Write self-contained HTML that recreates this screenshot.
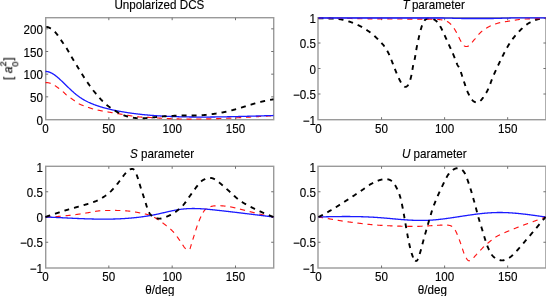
<!DOCTYPE html>
<html><head><meta charset="utf-8"><title>Scattering parameters</title>
<style>
html,body{margin:0;padding:0;background:#fff;}
body{width:546px;height:296px;overflow:hidden;}
svg{display:block;}
text{font-family:"Liberation Sans", Arial, Helvetica, sans-serif;font-size:12px;fill:#000;stroke:#000;stroke-width:0.14px;}
text{filter:url(#gs);}
.it{font-style:italic;}
</style></head><body>
<svg width="546" height="296" viewBox="0 0 546 296">
<defs><filter id="gs" x="-20%" y="-20%" width="140%" height="140%" color-interpolation-filters="sRGB"><feOffset dx="0" dy="0"/></filter></defs>
<rect x="0" y="0" width="546" height="296" fill="#fff"/>

<g id="panel1">
<clipPath id="clip1"><rect x="44.5" y="16.5" width="230.0" height="104.0"/></clipPath>
<rect x="45.7" y="17.7" width="228.00" height="102.00" fill="none" stroke="#9a9a9a" stroke-width="1.4"/>
<path d="M108.83,119.7v-2.5 M108.83,17.7v2.5 M172.17,119.7v-2.5 M172.17,17.7v2.5 M235.50,119.7v-2.5 M235.50,17.7v2.5 M45.7,96.83h2.5 M273.7,96.83h-2.5 M45.7,74.17h2.5 M273.7,74.17h-2.5 M45.7,51.50h2.5 M273.7,51.50h-2.5 M45.7,28.83h2.5 M273.7,28.83h-2.5" stroke="#707070" stroke-width="1" fill="none"/>
<g clip-path="url(#clip1)" fill="none" stroke-linejoin="round">
<path d="M45.50,82.60 L45.70,82.59 L45.90,82.59 L46.10,82.59 L46.30,82.59 L46.50,82.60 L46.70,82.61 L46.90,82.62 L47.10,82.63 L47.30,82.65 L47.50,82.66 L47.70,82.69 L47.90,82.71 L48.10,82.74 L48.30,82.77 L48.50,82.81 L48.70,82.85 L48.90,82.89 L49.10,82.94 L49.30,82.99 L49.50,83.04 L49.70,83.10 L49.90,83.16 L50.10,83.23 L50.30,83.30 L50.50,83.37 L50.65,83.43 M54.90,85.57 L55.10,85.70 L55.30,85.84 L55.50,85.97 L55.70,86.11 L55.90,86.25 L56.10,86.39 L56.30,86.53 L56.50,86.67 L56.70,86.81 L56.90,86.95 L57.10,87.10 L57.30,87.24 L57.50,87.39 L57.70,87.53 L57.90,87.68 L58.10,87.82 L58.30,87.97 L58.50,88.12 L58.70,88.27 L58.90,88.42 L59.10,88.58 L59.15,88.61 M62.90,91.58 L63.10,91.76 L63.30,91.93 L63.50,92.12 L63.70,92.31 L63.90,92.50 L64.10,92.70 L64.30,92.90 L64.50,93.10 L64.70,93.30 L64.90,93.50 L65.10,93.70 L65.30,93.90 L65.50,94.10 L65.70,94.29 L65.90,94.48 L66.10,94.66 L66.30,94.84 L66.50,95.01 L66.70,95.17 M70.55,97.94 L70.75,98.08 L70.95,98.22 L71.15,98.36 L71.35,98.50 L71.55,98.64 L71.75,98.78 L71.95,98.92 L72.15,99.06 L72.35,99.20 L72.55,99.34 L72.75,99.49 L72.95,99.63 L73.15,99.77 L73.35,99.91 L73.55,100.05 L73.75,100.19 L73.95,100.33 L74.15,100.47 L74.35,100.61 L74.55,100.75 L74.75,100.89 L74.85,100.96 M78.75,103.71 L78.95,103.81 L79.15,103.91 L79.35,104.01 L79.55,104.11 L79.75,104.20 L79.95,104.30 L80.15,104.39 L80.35,104.47 L80.55,104.56 L80.75,104.64 L80.95,104.73 L81.15,104.81 L81.35,104.89 L81.55,104.96 L81.75,105.04 L81.95,105.12 L82.15,105.19 L82.35,105.26 L82.55,105.34 L82.75,105.41 L82.95,105.48 L83.15,105.55 L83.35,105.62 L83.55,105.69 L83.60,105.71 M88.05,107.28 L88.25,107.36 L88.45,107.43 L88.65,107.51 L88.85,107.58 L89.05,107.65 L89.25,107.72 L89.45,107.80 L89.65,107.87 L89.85,107.94 L90.05,108.01 L90.25,108.08 L90.45,108.15 L90.65,108.22 L90.85,108.29 L91.05,108.36 L91.25,108.42 L91.45,108.49 L91.65,108.55 L91.85,108.62 L92.05,108.68 L92.25,108.74 L92.45,108.80 L92.65,108.86 L92.85,108.92 L93.05,108.98 M97.65,110.05 L97.85,110.09 L98.05,110.13 L98.25,110.18 L98.45,110.22 L98.65,110.26 L98.85,110.30 L99.05,110.34 L99.25,110.38 L99.45,110.42 L99.65,110.47 L99.85,110.51 L100.05,110.55 L100.25,110.59 L100.45,110.63 L100.65,110.66 L100.85,110.70 L101.05,110.74 L101.25,110.78 L101.45,110.82 L101.65,110.86 L101.85,110.90 L102.05,110.94 L102.25,110.97 L102.45,111.01 L102.65,111.05 L102.80,111.08 M107.50,111.90 L107.70,111.93 L107.90,111.97 L108.10,112.00 L108.30,112.04 L108.50,112.07 L108.70,112.10 L108.90,112.14 L109.10,112.17 L109.30,112.20 L109.50,112.24 L109.70,112.27 L109.90,112.30 L110.10,112.34 L110.30,112.37 L110.50,112.40 L110.70,112.44 L110.90,112.47 L111.10,112.51 L111.30,112.54 L111.50,112.57 L111.70,112.61 L111.90,112.64 L112.10,112.67 L112.30,112.71 L112.50,112.74 L112.65,112.77 M117.35,113.56 L117.55,113.59 L117.75,113.62 L117.95,113.66 L118.15,113.69 L118.35,113.72 L118.55,113.76 L118.75,113.79 L118.95,113.82 L119.15,113.86 L119.35,113.89 L119.55,113.92 L119.75,113.96 L119.95,113.99 L120.15,114.03 L120.35,114.06 L120.55,114.09 L120.75,114.13 L120.95,114.16 L121.15,114.19 L121.35,114.23 L121.55,114.26 L121.75,114.29 L121.95,114.33 L122.15,114.36 L122.35,114.40 L122.50,114.42 M127.20,115.21 L127.40,115.24 L127.60,115.28 L127.80,115.31 L128.00,115.35 L128.20,115.38 L128.40,115.41 L128.60,115.45 L128.80,115.48 L129.00,115.51 L129.20,115.55 L129.40,115.58 L129.60,115.61 L129.80,115.65 L130.00,115.68 L130.20,115.72 L130.40,115.75 L130.60,115.78 L130.80,115.82 L131.00,115.85 L131.20,115.88 L131.40,115.92 L131.60,115.95 L131.80,115.98 L132.00,116.02 L132.20,116.05 L132.40,116.08 M137.10,116.77 L137.30,116.79 L137.50,116.81 L137.70,116.83 L137.90,116.85 L138.10,116.87 L138.30,116.88 L138.50,116.90 L138.70,116.92 L138.90,116.93 L139.10,116.95 L139.30,116.96 L139.50,116.97 L139.70,116.99 L139.90,117.00 L140.10,117.01 L140.30,117.02 L140.50,117.03 L140.70,117.05 L140.90,117.06 L141.10,117.07 L141.30,117.08 L141.50,117.09 L141.70,117.09 L141.90,117.10 L142.10,117.11 L142.30,117.12 M147.05,117.31 L147.25,117.32 L147.45,117.33 L147.65,117.34 L147.85,117.36 L148.05,117.37 L148.25,117.38 L148.45,117.39 L148.65,117.40 L148.85,117.42 L149.05,117.43 L149.25,117.44 L149.45,117.45 L149.65,117.47 L149.85,117.48 L150.05,117.49 L150.25,117.51 L150.45,117.52 L150.65,117.53 L150.85,117.54 L151.05,117.56 L151.25,117.57 L151.45,117.58 L151.65,117.60 L151.85,117.61 L152.05,117.62 L152.25,117.63 M156.95,117.93 L157.15,117.95 L157.35,117.96 L157.55,117.97 L157.75,117.98 L157.95,118.00 L158.15,118.01 L158.35,118.02 L158.55,118.03 L158.75,118.05 L158.95,118.06 L159.15,118.07 L159.35,118.08 L159.55,118.10 L159.75,118.11 L159.95,118.12 L160.15,118.13 L160.35,118.15 L160.55,118.16 L160.75,118.17 L160.95,118.18 L161.15,118.19 L161.35,118.21 L161.55,118.22 L161.75,118.23 L161.95,118.24 L162.10,118.25 M166.75,118.51 L166.95,118.52 L167.15,118.53 L167.35,118.54 L167.55,118.55 L167.75,118.56 L167.95,118.57 L168.15,118.58 L168.35,118.59 L168.55,118.60 L168.75,118.61 L168.95,118.62 L169.15,118.62 L169.35,118.63 L169.55,118.64 L169.75,118.65 L169.95,118.66 L170.15,118.67 L170.35,118.68 L170.55,118.68 L170.75,118.69 L170.95,118.70 L171.15,118.71 L171.35,118.72 L171.55,118.72 L171.75,118.73 L171.90,118.74 M176.60,118.89 L176.80,118.89 L177.00,118.90 L177.20,118.90 L177.40,118.91 L177.60,118.91 L177.80,118.92 L178.00,118.92 L178.20,118.93 L178.40,118.93 L178.60,118.94 L178.80,118.94 L179.00,118.94 L179.20,118.95 L179.40,118.95 L179.60,118.96 L179.80,118.96 L180.00,118.96 L180.20,118.97 L180.40,118.97 L180.60,118.97 L180.80,118.98 L181.00,118.98 L181.20,118.98 L181.40,118.99 L181.60,118.99 L181.75,118.99 M186.45,119.04 L186.65,119.04 L186.85,119.04 L187.05,119.04 L187.25,119.05 L187.45,119.05 L187.65,119.05 L187.85,119.05 L188.05,119.05 L188.25,119.05 L188.45,119.05 L188.65,119.05 L188.85,119.05 L189.05,119.05 L189.25,119.05 L189.45,119.05 L189.65,119.05 L189.85,119.05 L190.05,119.05 L190.25,119.05 L190.45,119.05 L190.65,119.05 L190.85,119.05 L191.05,119.05 L191.25,119.05 L191.45,119.05 L191.60,119.05 M196.30,119.02 L196.50,119.02 L196.70,119.01 L196.90,119.01 L197.10,119.01 L197.30,119.01 L197.50,119.01 L197.70,119.00 L197.90,119.00 L198.10,119.00 L198.30,119.00 L198.50,118.99 L198.70,118.99 L198.90,118.99 L199.10,118.99 L199.30,118.98 L199.50,118.98 L199.70,118.98 L199.90,118.98 L200.10,118.97 L200.30,118.97 L200.50,118.97 L200.70,118.97 L200.90,118.96 L201.10,118.96 L201.30,118.96 L201.45,118.96 M206.20,118.88 L206.40,118.88 L206.60,118.88 L206.80,118.87 L207.00,118.87 L207.20,118.86 L207.40,118.86 L207.60,118.86 L207.80,118.85 L208.00,118.85 L208.20,118.85 L208.40,118.84 L208.60,118.84 L208.80,118.83 L209.00,118.83 L209.20,118.82 L209.40,118.82 L209.60,118.82 L209.80,118.81 L210.00,118.81 L210.20,118.80 L210.40,118.80 L210.60,118.79 L210.80,118.79 L211.00,118.78 L211.20,118.78 L211.40,118.77 M216.15,118.64 L216.35,118.63 L216.55,118.63 L216.75,118.62 L216.95,118.62 L217.15,118.61 L217.35,118.60 L217.55,118.59 L217.75,118.59 L217.95,118.58 L218.15,118.57 L218.35,118.57 L218.55,118.56 L218.75,118.55 L218.95,118.55 L219.15,118.54 L219.35,118.53 L219.55,118.53 L219.75,118.52 L219.95,118.51 L220.15,118.50 L220.35,118.50 L220.55,118.49 L220.75,118.48 L220.95,118.48 L221.15,118.47 L221.35,118.46 M226.10,118.29 L226.30,118.28 L226.50,118.27 L226.70,118.26 L226.90,118.26 L227.10,118.25 L227.30,118.24 L227.50,118.23 L227.70,118.22 L227.90,118.22 L228.10,118.21 L228.30,118.20 L228.50,118.19 L228.70,118.18 L228.90,118.17 L229.10,118.17 L229.30,118.16 L229.50,118.15 L229.70,118.14 L229.90,118.13 L230.10,118.12 L230.30,118.12 L230.50,118.11 L230.70,118.10 L230.90,118.09 L231.10,118.08 L231.30,118.07 L231.35,118.07 M236.05,117.85 L236.25,117.84 L236.45,117.83 L236.65,117.82 L236.85,117.81 L237.05,117.80 L237.25,117.79 L237.45,117.78 L237.65,117.77 L237.85,117.76 L238.05,117.75 L238.25,117.74 L238.45,117.72 L238.65,117.71 L238.85,117.70 L239.05,117.69 L239.25,117.68 L239.45,117.67 L239.65,117.66 L239.85,117.65 L240.05,117.64 L240.25,117.63 L240.45,117.61 L240.65,117.60 L240.85,117.59 L241.05,117.58 L241.25,117.57 M246.00,117.31 L246.20,117.30 L246.40,117.28 L246.60,117.27 L246.80,117.26 L247.00,117.25 L247.20,117.24 L247.40,117.23 L247.60,117.22 L247.80,117.20 L248.00,117.19 L248.20,117.18 L248.40,117.17 L248.60,117.16 L248.80,117.15 L249.00,117.14 L249.20,117.13 L249.40,117.11 L249.60,117.10 L249.80,117.09 L250.00,117.08 L250.20,117.07 L250.40,117.06 L250.60,117.04 L250.80,117.03 L251.00,117.02 L251.20,117.01 M255.95,116.73 L256.15,116.72 L256.35,116.71 L256.55,116.70 L256.75,116.69 L256.95,116.68 L257.15,116.66 L257.35,116.65 L257.55,116.64 L257.75,116.63 L257.95,116.62 L258.15,116.61 L258.35,116.59 L258.55,116.58 L258.75,116.57 L258.95,116.56 L259.15,116.55 L259.35,116.54 L259.55,116.52 L259.75,116.51 L259.95,116.50 L260.15,116.49 L260.35,116.48 L260.55,116.47 L260.75,116.45 L260.95,116.44 L261.15,116.43 M265.90,116.15 L266.10,116.14 L266.30,116.13 L266.50,116.12 L266.70,116.10 L266.90,116.09 L267.10,116.08 L267.30,116.07 L267.50,116.06 L267.70,116.05 L267.90,116.03 L268.10,116.02 L268.30,116.01 L268.50,116.00 L268.70,115.99 L268.90,115.97 L269.10,115.96 L269.30,115.95 L269.50,115.94 L269.70,115.93 L269.90,115.91 L270.10,115.90 L270.30,115.89 L270.50,115.88 L270.70,115.87 L270.90,115.86 L271.10,115.84" stroke="#ff1414" stroke-width="1.15"/>
<path d="M45.50,71.50 L46.00,71.49 L46.50,71.52 L47.00,71.56 L47.50,71.64 L48.00,71.73 L48.50,71.86 L49.00,72.00 L49.50,72.17 L50.00,72.35 L50.50,72.56 L51.00,72.79 L51.50,73.04 L52.00,73.30 L52.50,73.59 L53.00,73.89 L53.50,74.20 L54.00,74.54 L54.50,74.88 L55.00,75.24 L55.50,75.62 L56.00,76.00 L56.50,76.40 L57.00,76.81 L57.50,77.23 L58.00,77.66 L58.50,78.09 L59.00,78.54 L59.50,78.99 L60.00,79.45 L60.50,79.91 L61.00,80.38 L61.50,80.85 L62.00,81.33 L62.50,81.81 L63.00,82.30 L63.50,82.78 L64.00,83.27 L64.50,83.76 L65.00,84.25 L65.50,84.74 L66.00,85.23 L66.50,85.71 L67.00,86.20 L67.50,86.68 L68.00,87.16 L68.50,87.64 L69.00,88.12 L69.50,88.60 L70.00,89.07 L70.50,89.54 L71.00,90.00 L71.50,90.46 L72.00,90.92 L72.50,91.37 L73.00,91.82 L73.50,92.26 L74.00,92.69 L74.50,93.13 L75.00,93.55 L75.50,93.97 L76.00,94.38 L76.50,94.79 L77.00,95.18 L77.50,95.58 L78.00,95.96 L78.50,96.33 L79.00,96.70 L79.50,97.06 L80.00,97.41 L80.50,97.75 L81.00,98.08 L81.50,98.41 L82.00,98.73 L82.50,99.04 L83.00,99.34 L83.50,99.64 L84.00,99.93 L84.50,100.21 L85.00,100.49 L85.50,100.76 L86.00,101.02 L86.50,101.28 L87.00,101.53 L87.50,101.77 L88.00,102.02 L88.50,102.25 L89.00,102.48 L89.50,102.71 L90.00,102.93 L90.50,103.15 L91.00,103.36 L91.50,103.57 L92.00,103.77 L92.50,103.97 L93.00,104.17 L93.50,104.36 L94.00,104.55 L94.50,104.74 L95.00,104.93 L95.50,105.11 L96.00,105.29 L96.50,105.46 L97.00,105.64 L97.50,105.81 L98.00,105.98 L98.50,106.14 L99.00,106.31 L99.50,106.47 L100.00,106.63 L100.50,106.78 L101.00,106.94 L101.50,107.09 L102.00,107.24 L102.50,107.39 L103.00,107.53 L103.50,107.67 L104.00,107.81 L104.50,107.95 L105.00,108.09 L105.50,108.22 L106.00,108.35 L106.50,108.48 L107.00,108.61 L107.50,108.74 L108.00,108.86 L108.50,108.98 L109.00,109.10 L109.50,109.22 L110.00,109.34 L110.50,109.45 L111.00,109.57 L111.50,109.68 L112.00,109.79 L112.50,109.90 L113.00,110.01 L113.50,110.11 L114.00,110.22 L114.50,110.32 L115.00,110.42 L115.50,110.52 L116.00,110.62 L116.50,110.72 L117.00,110.82 L117.50,110.91 L118.00,111.01 L118.50,111.10 L119.00,111.19 L119.50,111.28 L120.00,111.37 L120.50,111.46 L121.00,111.55 L121.50,111.64 L122.00,111.73 L122.50,111.81 L123.00,111.90 L123.50,111.98 L124.00,112.06 L124.50,112.15 L125.00,112.23 L125.50,112.31 L126.00,112.39 L126.50,112.46 L127.00,112.54 L127.50,112.62 L128.00,112.69 L128.50,112.77 L129.00,112.84 L129.50,112.91 L130.00,112.99 L130.50,113.06 L131.00,113.13 L131.50,113.20 L132.00,113.27 L132.50,113.34 L133.00,113.40 L133.50,113.47 L134.00,113.53 L134.50,113.60 L135.00,113.66 L135.50,113.73 L136.00,113.79 L136.50,113.85 L137.00,113.91 L137.50,113.97 L138.00,114.03 L138.50,114.09 L139.00,114.15 L139.50,114.20 L140.00,114.26 L140.50,114.32 L141.00,114.37 L141.50,114.42 L142.00,114.48 L142.50,114.53 L143.00,114.58 L143.50,114.63 L144.00,114.68 L144.50,114.73 L145.00,114.78 L145.50,114.83 L146.00,114.88 L146.50,114.92 L147.00,114.97 L147.50,115.02 L148.00,115.06 L148.50,115.11 L149.00,115.15 L149.50,115.19 L150.00,115.23 L150.50,115.28 L151.00,115.32 L151.50,115.36 L152.00,115.40 L152.50,115.44 L153.00,115.48 L153.50,115.51 L154.00,115.55 L154.50,115.59 L155.00,115.62 L155.50,115.66 L156.00,115.69 L156.50,115.73 L157.00,115.76 L157.50,115.80 L158.00,115.83 L158.50,115.86 L159.00,115.89 L159.50,115.92 L160.00,115.95 L160.50,115.98 L161.00,116.01 L161.50,116.04 L162.00,116.07 L162.50,116.10 L163.00,116.13 L163.50,116.15 L164.00,116.18 L164.50,116.21 L165.00,116.23 L165.50,116.26 L166.00,116.28 L166.50,116.30 L167.00,116.33 L167.50,116.35 L168.00,116.37 L168.50,116.40 L169.00,116.42 L169.50,116.44 L170.00,116.46 L170.50,116.48 L171.00,116.50 L171.50,116.52 L172.00,116.54 L172.50,116.56 L173.00,116.57 L173.50,116.59 L174.00,116.61 L174.50,116.63 L175.00,116.64 L175.50,116.66 L176.00,116.68 L176.50,116.69 L177.00,116.71 L177.50,116.72 L178.00,116.74 L178.50,116.75 L179.00,116.76 L179.50,116.78 L180.00,116.79 L180.50,116.80 L181.00,116.82 L181.50,116.83 L182.00,116.84 L182.50,116.85 L183.00,116.86 L183.50,116.87 L184.00,116.88 L184.50,116.89 L185.00,116.90 L185.50,116.91 L186.00,116.92 L186.50,116.93 L187.00,116.94 L187.50,116.95 L188.00,116.96 L188.50,116.96 L189.00,116.97 L189.50,116.98 L190.00,116.98 L190.50,116.99 L191.00,117.00 L191.50,117.00 L192.00,117.01 L192.50,117.01 L193.00,117.02 L193.50,117.02 L194.00,117.03 L194.50,117.03 L195.00,117.03 L195.50,117.04 L196.00,117.04 L196.50,117.04 L197.00,117.05 L197.50,117.05 L198.00,117.05 L198.50,117.05 L199.00,117.05 L199.50,117.06 L200.00,117.06 L200.50,117.06 L201.00,117.06 L201.50,117.06 L202.00,117.06 L202.50,117.06 L203.00,117.06 L203.50,117.06 L204.00,117.06 L204.50,117.05 L205.00,117.05 L205.50,117.05 L206.00,117.05 L206.50,117.05 L207.00,117.04 L207.50,117.04 L208.00,117.04 L208.50,117.04 L209.00,117.03 L209.50,117.03 L210.00,117.03 L210.50,117.02 L211.00,117.02 L211.50,117.01 L212.00,117.01 L212.50,117.00 L213.00,117.00 L213.50,116.99 L214.00,116.99 L214.50,116.98 L215.00,116.98 L215.50,116.97 L216.00,116.96 L216.50,116.96 L217.00,116.95 L217.50,116.94 L218.00,116.94 L218.50,116.93 L219.00,116.92 L219.50,116.91 L220.00,116.91 L220.50,116.90 L221.00,116.89 L221.50,116.88 L222.00,116.87 L222.50,116.87 L223.00,116.86 L223.50,116.85 L224.00,116.84 L224.50,116.83 L225.00,116.82 L225.50,116.81 L226.00,116.80 L226.50,116.79 L227.00,116.78 L227.50,116.77 L228.00,116.76 L228.50,116.75 L229.00,116.74 L229.50,116.73 L230.00,116.72 L230.50,116.71 L231.00,116.70 L231.50,116.68 L232.00,116.67 L232.50,116.66 L233.00,116.65 L233.50,116.64 L234.00,116.63 L234.50,116.61 L235.00,116.60 L235.50,116.59 L236.00,116.58 L236.50,116.57 L237.00,116.55 L237.50,116.54 L238.00,116.53 L238.50,116.52 L239.00,116.50 L239.50,116.49 L240.00,116.48 L240.50,116.46 L241.00,116.45 L241.50,116.44 L242.00,116.42 L242.50,116.41 L243.00,116.40 L243.50,116.38 L244.00,116.37 L244.50,116.35 L245.00,116.34 L245.50,116.33 L246.00,116.31 L246.50,116.30 L247.00,116.28 L247.50,116.27 L248.00,116.26 L248.50,116.24 L249.00,116.23 L249.50,116.21 L250.00,116.20 L250.50,116.18 L251.00,116.17 L251.50,116.15 L252.00,116.14 L252.50,116.13 L253.00,116.11 L253.50,116.10 L254.00,116.08 L254.50,116.07 L255.00,116.05 L255.50,116.04 L256.00,116.02 L256.50,116.01 L257.00,115.99 L257.50,115.98 L258.00,115.96 L258.50,115.95 L259.00,115.93 L259.50,115.92 L260.00,115.90 L260.50,115.89 L261.00,115.87 L261.50,115.86 L262.00,115.84 L262.50,115.83 L263.00,115.81 L263.50,115.80 L264.00,115.78 L264.50,115.77 L265.00,115.75 L265.50,115.74 L266.00,115.72 L266.50,115.71 L267.00,115.69 L267.50,115.68 L268.00,115.66 L268.50,115.65 L269.00,115.63 L269.50,115.62 L270.00,115.60 L270.50,115.59 L271.00,115.57 L271.50,115.56 L272.00,115.54 L272.50,115.53 L273.00,115.51 L273.50,115.50" stroke="#1a1aff" stroke-width="1.3"/>
<path d="M46.30,26.80 L46.50,26.83 L46.70,26.87 L46.90,26.92 L47.10,26.96 L47.30,27.01 L47.50,27.07 L47.70,27.13 L47.90,27.19 L48.10,27.26 L48.30,27.33 L48.50,27.40 L48.70,27.48 L48.90,27.57 L49.10,27.66 L49.30,27.75 L49.50,27.85 L49.70,27.95 L49.90,28.05 L50.10,28.16 L50.30,28.28 L50.50,28.39 L50.70,28.51 L50.85,28.60 M54.80,31.78 L55.00,31.98 L55.20,32.18 L55.40,32.39 L55.60,32.60 L55.80,32.82 L56.00,33.04 L56.20,33.28 L56.40,33.52 L56.60,33.77 L56.80,34.03 L57.00,34.30 L57.20,34.58 L57.40,34.86 L57.60,35.13 L57.80,35.41 L57.90,35.55 M60.80,39.74 L61.00,40.03 L61.20,40.33 L61.40,40.63 L61.60,40.92 L61.80,41.22 L62.00,41.52 L62.20,41.81 L62.40,42.11 L62.60,42.41 L62.80,42.70 L63.00,42.99 L63.20,43.28 L63.40,43.56 L63.55,43.77 M66.45,47.99 L66.65,48.32 L66.85,48.66 L67.05,49.00 L67.25,49.34 L67.45,49.69 L67.65,50.04 L67.85,50.39 L68.05,50.74 L68.25,51.09 L68.45,51.44 L68.65,51.80 L68.85,52.16 L68.90,52.25 M71.40,56.68 L71.60,57.01 L71.80,57.35 L72.00,57.68 L72.20,58.02 L72.40,58.35 L72.60,58.68 L72.80,59.01 L73.00,59.35 L73.20,59.68 L73.40,60.01 L73.60,60.34 L73.80,60.67 L73.90,60.83 M76.55,65.20 L76.75,65.53 L76.95,65.86 L77.15,66.18 L77.35,66.51 L77.55,66.84 L77.75,67.17 L77.95,67.49 L78.15,67.82 L78.35,68.15 L78.55,68.47 L78.75,68.80 L78.95,69.13 L79.10,69.37 M81.80,73.76 L82.00,74.08 L82.20,74.41 L82.40,74.73 L82.60,75.04 L82.80,75.36 L83.00,75.68 L83.20,75.99 L83.40,76.31 L83.60,76.62 L83.80,76.93 L84.00,77.24 L84.20,77.55 L84.40,77.85 M87.25,82.11 L87.45,82.40 L87.65,82.70 L87.85,82.99 L88.05,83.27 L88.25,83.56 L88.45,83.85 L88.65,84.14 L88.85,84.42 L89.05,84.71 L89.25,84.99 L89.45,85.28 L89.65,85.56 L89.85,85.85 L90.05,86.13 M93.10,90.23 L93.30,90.48 L93.50,90.74 L93.70,90.99 L93.90,91.24 L94.10,91.49 L94.30,91.74 L94.50,91.98 L94.70,92.23 L94.90,92.47 L95.10,92.72 L95.30,92.96 L95.50,93.20 L95.70,93.44 L95.90,93.68 L96.10,93.92 L96.20,94.03 M99.50,97.83 L99.70,98.05 L99.90,98.28 L100.10,98.50 L100.30,98.72 L100.50,98.94 L100.70,99.16 L100.90,99.37 L101.10,99.59 L101.30,99.80 L101.50,100.02 L101.70,100.23 L101.90,100.44 L102.10,100.65 L102.30,100.86 L102.50,101.06 L102.70,101.27 L102.85,101.42 M106.60,104.86 L106.80,105.02 L107.00,105.18 L107.20,105.34 L107.40,105.49 L107.60,105.64 L107.80,105.80 L108.00,105.95 L108.20,106.10 L108.40,106.25 L108.60,106.40 L108.80,106.55 L109.00,106.69 L109.20,106.84 L109.40,106.99 L109.60,107.13 L109.80,107.27 L110.00,107.41 L110.20,107.56 L110.40,107.70 L110.55,107.80 M114.75,110.56 L114.95,110.68 L115.15,110.81 L115.35,110.93 L115.55,111.05 L115.75,111.18 L115.95,111.30 L116.15,111.42 L116.35,111.54 L116.55,111.66 L116.75,111.78 L116.95,111.90 L117.15,112.02 L117.35,112.14 L117.55,112.26 L117.75,112.37 L117.95,112.49 L118.15,112.60 L118.35,112.72 L118.55,112.83 L118.75,112.94 L118.95,113.05 L119.00,113.08 M123.50,115.17 L123.70,115.25 L123.90,115.32 L124.10,115.40 L124.30,115.47 L124.50,115.55 L124.70,115.62 L124.90,115.69 L125.10,115.76 L125.30,115.83 L125.50,115.90 L125.70,115.96 L125.90,116.03 L126.10,116.09 L126.30,116.16 L126.50,116.22 L126.70,116.28 L126.90,116.34 L127.10,116.40 L127.30,116.46 L127.50,116.52 L127.70,116.57 L127.90,116.63 L128.05,116.67 M132.90,117.71 L133.10,117.74 L133.30,117.77 L133.50,117.80 L133.70,117.83 L133.90,117.85 L134.10,117.88 L134.30,117.90 L134.50,117.92 L134.70,117.94 L134.90,117.97 L135.10,117.99 L135.30,118.01 L135.50,118.03 L135.70,118.05 L135.90,118.07 L136.10,118.09 L136.30,118.10 L136.50,118.12 L136.70,118.14 L136.90,118.16 L137.10,118.17 L137.30,118.19 L137.50,118.20 L137.65,118.21 M142.60,118.27 L142.80,118.26 L143.00,118.25 L143.20,118.25 L143.40,118.24 L143.60,118.23 L143.80,118.23 L144.00,118.22 L144.20,118.21 L144.40,118.20 L144.60,118.19 L144.80,118.18 L145.00,118.17 L145.20,118.16 L145.40,118.15 L145.60,118.14 L145.80,118.13 L146.00,118.12 L146.20,118.10 L146.40,118.09 L146.60,118.08 L146.80,118.06 L147.00,118.05 L147.20,118.03 L147.40,118.01 M152.30,117.48 L152.50,117.46 L152.70,117.43 L152.90,117.41 L153.10,117.39 L153.30,117.37 L153.50,117.34 L153.70,117.32 L153.90,117.30 L154.10,117.27 L154.30,117.25 L154.50,117.23 L154.70,117.21 L154.90,117.19 L155.10,117.16 L155.30,117.14 L155.50,117.12 L155.70,117.10 L155.90,117.08 L156.10,117.06 L156.30,117.04 L156.50,117.02 L156.70,117.00 L156.90,116.97 L157.00,116.96 M161.90,116.48 L162.10,116.47 L162.30,116.45 L162.50,116.43 L162.70,116.42 L162.90,116.40 L163.10,116.38 L163.30,116.37 L163.50,116.35 L163.70,116.34 L163.90,116.32 L164.10,116.31 L164.30,116.30 L164.50,116.28 L164.70,116.27 L164.90,116.25 L165.10,116.24 L165.30,116.23 L165.50,116.22 L165.70,116.20 L165.90,116.19 L166.10,116.18 L166.30,116.17 L166.50,116.16 L166.60,116.15 M171.55,115.91 L171.75,115.90 L171.95,115.89 L172.15,115.89 L172.35,115.88 L172.55,115.87 L172.75,115.86 L172.95,115.85 L173.15,115.85 L173.35,115.84 L173.55,115.83 L173.75,115.82 L173.95,115.81 L174.15,115.81 L174.35,115.80 L174.55,115.79 L174.75,115.78 L174.95,115.77 L175.15,115.77 L175.35,115.76 L175.55,115.75 L175.75,115.75 L175.95,115.74 L176.15,115.73 L176.35,115.72 L176.50,115.72 M181.60,115.56 L181.80,115.56 L182.00,115.55 L182.20,115.55 L182.40,115.54 L182.60,115.54 L182.80,115.53 L183.00,115.53 L183.20,115.52 L183.40,115.52 L183.60,115.52 L183.80,115.51 L184.00,115.51 L184.20,115.50 L184.40,115.50 L184.60,115.49 L184.80,115.49 L185.00,115.49 L185.20,115.48 L185.40,115.48 L185.60,115.48 L185.80,115.48 L186.00,115.48 L186.20,115.48 L186.40,115.48 L186.55,115.48 M191.60,115.51 L191.80,115.51 L192.00,115.51 L192.20,115.52 L192.40,115.52 L192.60,115.52 L192.80,115.52 L193.00,115.52 L193.20,115.52 L193.40,115.52 L193.60,115.52 L193.80,115.52 L194.00,115.52 L194.20,115.52 L194.40,115.52 L194.60,115.52 L194.80,115.52 L195.00,115.51 L195.20,115.51 L195.40,115.51 L195.60,115.51 L195.80,115.50 L196.00,115.50 L196.20,115.50 L196.40,115.49 L196.55,115.49 M201.65,115.24 L201.85,115.23 L202.05,115.21 L202.25,115.20 L202.45,115.18 L202.65,115.17 L202.85,115.15 L203.05,115.13 L203.25,115.12 L203.45,115.10 L203.65,115.08 L203.85,115.07 L204.05,115.05 L204.25,115.03 L204.45,115.01 L204.65,115.00 L204.85,114.98 L205.05,114.96 L205.25,114.94 L205.45,114.92 L205.65,114.90 L205.85,114.88 L206.05,114.86 L206.25,114.84 L206.45,114.82 L206.60,114.80 M211.65,114.20 L211.85,114.17 L212.05,114.14 L212.25,114.12 L212.45,114.09 L212.65,114.06 L212.85,114.03 L213.05,114.01 L213.25,113.98 L213.45,113.95 L213.65,113.92 L213.85,113.89 L214.05,113.86 L214.25,113.84 L214.45,113.81 L214.65,113.78 L214.85,113.75 L215.05,113.72 L215.25,113.69 L215.45,113.66 L215.65,113.63 L215.85,113.60 L216.05,113.57 L216.25,113.53 L216.45,113.50 L216.55,113.49 M221.55,112.63 L221.75,112.59 L221.95,112.55 L222.15,112.51 L222.35,112.48 L222.55,112.44 L222.75,112.40 L222.95,112.36 L223.15,112.32 L223.35,112.28 L223.55,112.24 L223.75,112.20 L223.95,112.16 L224.15,112.12 L224.35,112.08 L224.55,112.04 L224.75,112.00 L224.95,111.95 L225.15,111.91 L225.35,111.87 L225.55,111.83 L225.75,111.78 L225.95,111.74 L226.15,111.69 L226.35,111.65 L226.40,111.64 M231.35,110.42 L231.55,110.37 L231.75,110.32 L231.95,110.27 L232.15,110.21 L232.35,110.16 L232.55,110.11 L232.75,110.05 L232.95,110.00 L233.15,109.94 L233.35,109.89 L233.55,109.84 L233.75,109.78 L233.95,109.73 L234.15,109.67 L234.35,109.62 L234.55,109.56 L234.75,109.51 L234.95,109.45 L235.15,109.39 L235.35,109.34 L235.55,109.28 L235.75,109.22 L235.95,109.17 L236.10,109.12 M241.00,107.66 L241.20,107.60 L241.40,107.54 L241.60,107.48 L241.80,107.41 L242.00,107.35 L242.20,107.29 L242.40,107.23 L242.60,107.17 L242.80,107.11 L243.00,107.05 L243.20,106.99 L243.40,106.92 L243.60,106.86 L243.80,106.80 L244.00,106.74 L244.20,106.68 L244.40,106.62 L244.60,106.56 L244.80,106.49 L245.00,106.43 L245.20,106.37 L245.40,106.31 L245.60,106.25 L245.75,106.20 M250.60,104.73 L250.80,104.67 L251.00,104.61 L251.20,104.54 L251.40,104.48 L251.60,104.42 L251.80,104.36 L252.00,104.30 L252.20,104.24 L252.40,104.18 L252.60,104.12 L252.80,104.06 L253.00,104.00 L253.20,103.94 L253.40,103.88 L253.60,103.82 L253.80,103.76 L254.00,103.70 L254.20,103.64 L254.40,103.58 L254.60,103.52 L254.80,103.46 L255.00,103.40 L255.20,103.34 L255.35,103.29 M260.25,101.97 L260.45,101.93 L260.65,101.88 L260.85,101.83 L261.05,101.79 L261.25,101.74 L261.45,101.69 L261.65,101.65 L261.85,101.60 L262.05,101.56 L262.25,101.51 L262.45,101.47 L262.65,101.43 L262.85,101.38 L263.05,101.34 L263.25,101.29 L263.45,101.25 L263.65,101.21 L263.85,101.16 L264.05,101.12 L264.25,101.08 L264.45,101.03 L264.65,100.99 L264.85,100.95 L265.05,100.90 L265.10,100.89 M270.10,99.89 L270.30,99.86 L270.50,99.82 L270.70,99.78 L270.90,99.75 L271.10,99.71 L271.30,99.68 L271.50,99.64 L271.70,99.61 L271.90,99.57 L272.10,99.54 L272.30,99.50 L272.50,99.47 L272.70,99.43 L272.90,99.40 L273.10,99.37 L273.30,99.33 L273.50,99.30 L273.50,99.30" stroke="#000" stroke-width="1.9"/>
</g>
<text transform="translate(45.50,132.90) scale(0.97,1)" text-anchor="middle">0</text>
<text transform="translate(108.83,132.90) scale(0.97,1)" text-anchor="middle">50</text>
<text transform="translate(172.17,132.90) scale(0.97,1)" text-anchor="middle">100</text>
<text transform="translate(235.50,132.90) scale(0.97,1)" text-anchor="middle">150</text>
<text transform="translate(43.00,124.50) scale(0.97,1)" text-anchor="end">0</text>
<text transform="translate(43.00,101.83) scale(0.97,1)" text-anchor="end">50</text>
<text transform="translate(43.00,79.17) scale(0.97,1)" text-anchor="end">100</text>
<text transform="translate(43.00,56.50) scale(0.97,1)" text-anchor="end">150</text>
<text transform="translate(43.00,33.83) scale(0.97,1)" text-anchor="end">200</text>
</g>
<g id="panel2">
<clipPath id="clip2"><rect x="317.5" y="16.5" width="229.0" height="104.0"/></clipPath>
<rect x="318.0" y="17.7" width="227.90" height="102.00" fill="none" stroke="#9a9a9a" stroke-width="1.4"/>
<path d="M381.56,119.7v-2.5 M381.56,17.7v2.5 M444.61,119.7v-2.5 M444.61,17.7v2.5 M507.67,119.7v-2.5 M507.67,17.7v2.5 M318.0,94.00h2.5 M545.9,94.00h-2.5 M318.0,68.50h2.5 M545.9,68.50h-2.5 M318.0,43.00h2.5 M545.9,43.00h-2.5" stroke="#707070" stroke-width="1" fill="none"/>
<g clip-path="url(#clip2)" fill="none" stroke-linejoin="round">
<path d="M318.50,18.40 L318.70,18.40 L318.90,18.40 L319.10,18.40 L319.30,18.39 L319.50,18.39 L319.70,18.39 L319.90,18.39 L320.10,18.39 L320.30,18.39 L320.50,18.39 L320.70,18.39 L320.90,18.40 L321.10,18.40 L321.30,18.40 L321.50,18.40 L321.70,18.40 L321.90,18.40 L322.10,18.40 L322.30,18.41 L322.50,18.41 L322.70,18.41 L322.90,18.41 L323.10,18.42 L323.30,18.42 L323.45,18.42 M328.55,18.51 L328.75,18.52 L328.95,18.52 L329.15,18.52 L329.35,18.53 L329.55,18.54 L329.75,18.54 L329.95,18.55 L330.15,18.55 L330.35,18.56 L330.55,18.57 L330.75,18.57 L330.95,18.58 L331.15,18.59 L331.35,18.60 L331.55,18.60 L331.75,18.61 L331.95,18.62 L332.15,18.63 L332.35,18.64 L332.55,18.65 L332.75,18.66 L332.95,18.67 L333.15,18.68 L333.35,18.69 L333.50,18.70 M338.55,19.05 L338.75,19.07 L338.95,19.09 L339.15,19.12 L339.35,19.14 L339.55,19.17 L339.75,19.20 L339.95,19.23 L340.15,19.26 L340.35,19.29 L340.55,19.32 L340.75,19.36 L340.95,19.39 L341.15,19.43 L341.35,19.46 L341.55,19.50 L341.75,19.54 L341.95,19.58 L342.15,19.63 L342.35,19.67 L342.55,19.71 L342.75,19.76 L342.95,19.80 L343.15,19.85 L343.35,19.90 L343.45,19.92 M348.35,21.28 L348.55,21.35 L348.75,21.41 L348.95,21.47 L349.15,21.53 L349.35,21.60 L349.55,21.66 L349.75,21.73 L349.95,21.80 L350.15,21.86 L350.35,21.93 L350.55,22.00 L350.75,22.07 L350.95,22.14 L351.15,22.22 L351.35,22.29 L351.55,22.36 L351.75,22.44 L351.95,22.51 L352.15,22.59 L352.35,22.66 L352.55,22.74 L352.75,22.82 L352.95,22.90 L353.00,22.92 M357.65,24.92 L357.85,25.01 L358.05,25.10 L358.25,25.19 L358.45,25.29 L358.65,25.38 L358.85,25.48 L359.05,25.57 L359.25,25.67 L359.45,25.77 L359.65,25.86 L359.85,25.96 L360.05,26.06 L360.25,26.17 L360.45,26.27 L360.65,26.37 L360.85,26.48 L361.05,26.59 L361.25,26.69 L361.45,26.80 L361.65,26.91 L361.85,27.02 L362.05,27.13 L362.10,27.16 M366.45,29.81 L366.65,29.95 L366.85,30.08 L367.05,30.21 L367.25,30.34 L367.45,30.47 L367.65,30.61 L367.85,30.74 L368.05,30.88 L368.25,31.01 L368.45,31.15 L368.65,31.28 L368.85,31.42 L369.05,31.56 L369.25,31.70 L369.45,31.83 L369.65,31.97 L369.85,32.12 L370.05,32.26 L370.25,32.41 L370.45,32.56 L370.50,32.60 M374.40,35.89 L374.60,36.08 L374.80,36.26 L375.00,36.45 L375.20,36.64 L375.40,36.83 L375.60,37.02 L375.80,37.21 L376.00,37.40 L376.20,37.60 L376.40,37.79 L376.60,37.99 L376.80,38.18 L377.00,38.38 L377.20,38.58 L377.40,38.78 L377.60,38.98 L377.80,39.18 L377.95,39.33 M381.45,42.91 L381.65,43.13 L381.85,43.35 L382.05,43.57 L382.25,43.79 L382.45,44.02 L382.65,44.25 L382.85,44.48 L383.05,44.71 L383.25,44.95 L383.45,45.20 L383.65,45.45 L383.85,45.70 L384.05,45.95 L384.25,46.22 L384.45,46.48 L384.50,46.55 M387.20,50.73 L387.40,51.09 L387.60,51.45 L387.80,51.83 L388.00,52.21 L388.20,52.60 L388.40,53.00 L388.60,53.41 L388.80,53.83 L389.00,54.27 L389.20,54.71 L389.35,55.05 M391.30,59.75 L391.50,60.25 L391.70,60.76 L391.90,61.26 L392.10,61.77 L392.30,62.29 L392.50,62.80 L392.70,63.32 L392.90,63.83 L393.05,64.22 M394.85,68.86 L395.05,69.37 L395.25,69.87 L395.45,70.38 L395.65,70.87 L395.85,71.37 L396.05,71.86 L396.25,72.35 L396.45,72.83 L396.65,73.31 L396.70,73.43 M398.80,78.21 L399.00,78.64 L399.20,79.07 L399.40,79.49 L399.60,79.90 L399.80,80.30 L400.00,80.69 L400.20,81.06 L400.40,81.42 L400.60,81.77 L400.80,82.10 L401.00,82.42 L401.05,82.50 M404.35,86.46 L404.55,86.59 L404.75,86.70 L404.95,86.78 L405.15,86.85 L405.35,86.89 L405.55,86.90 L405.75,86.88 L405.95,86.82 L406.15,86.73 L406.35,86.62 L406.55,86.49 L406.75,86.35 L406.95,86.19 L407.15,86.04 L407.35,85.88 L407.55,85.69 L407.75,85.48 L407.95,85.24 L408.15,84.98 L408.35,84.69 L408.40,84.62 M410.30,79.69 L410.50,78.96 L410.70,78.20 L410.90,77.42 L411.10,76.62 L411.30,75.80 L411.50,74.91 M412.40,69.91 L412.60,68.69 L412.80,67.47 L413.00,66.28 L413.20,65.12 M414.55,59.86 L414.75,58.85 L414.95,57.78 L415.15,56.65 L415.35,55.49 L415.40,55.19 M416.25,50.05 L416.45,48.87 L416.65,47.74 L416.85,46.66 L417.05,45.64 L417.15,45.16 M418.25,40.02 L418.45,39.12 L418.65,38.23 L418.85,37.36 L419.05,36.49 L419.25,35.64 L419.35,35.22 M420.65,30.10 L420.85,29.36 L421.05,28.65 L421.25,27.96 L421.45,27.28 L421.65,26.63 L421.85,26.01 L422.05,25.41 M424.35,20.74 L424.55,20.48 L424.75,20.24 L424.95,20.03 L425.15,19.83 L425.35,19.65 L425.55,19.49 L425.75,19.35 L425.95,19.23 L426.15,19.13 L426.35,19.05 L426.55,18.99 L426.75,18.93 L426.95,18.88 L427.15,18.82 L427.35,18.77 L427.55,18.72 L427.75,18.68 L427.95,18.63 L428.15,18.59 L428.35,18.55 L428.55,18.52 M433.40,19.11 L433.60,19.21 L433.80,19.32 L434.00,19.43 L434.20,19.55 L434.40,19.67 L434.60,19.80 L434.80,19.93 L435.00,20.07 L435.20,20.21 L435.40,20.35 L435.60,20.50 L435.80,20.65 L436.00,20.81 L436.20,20.97 L436.40,21.14 L436.60,21.32 L436.80,21.50 L437.00,21.69 L437.20,21.89 L437.30,22.00 M440.15,26.14 L440.35,26.51 L440.55,26.88 L440.75,27.26 L440.95,27.64 L441.15,28.02 L441.35,28.41 L441.55,28.80 L441.75,29.19 L441.95,29.59 L442.15,29.99 L442.35,30.40 L442.40,30.50 M444.60,35.23 L444.80,35.67 L445.00,36.11 L445.20,36.55 L445.40,36.99 L445.60,37.43 L445.80,37.88 L446.00,38.32 L446.20,38.76 L446.40,39.20 L446.60,39.64 M448.75,44.39 L448.95,44.84 L449.15,45.28 L449.35,45.72 L449.55,46.16 L449.75,46.61 L449.95,47.05 L450.15,47.49 L450.35,47.93 L450.55,48.38 L450.75,48.82 M452.85,53.47 L453.05,53.91 L453.25,54.36 L453.45,54.83 L453.65,55.30 L453.85,55.79 L454.05,56.28 L454.25,56.78 L454.45,57.29 L454.65,57.80 L454.75,58.06 M456.60,62.84 L456.80,63.33 L457.00,63.82 L457.20,64.30 L457.40,64.74 L457.60,65.13 L457.80,65.48 L458.00,65.79 L458.20,66.08 L458.40,66.35 L458.60,66.63 L458.80,66.91 L458.95,67.14 M460.85,71.98 L461.05,72.60 L461.25,73.21 L461.45,73.83 L461.65,74.44 L461.85,75.06 L462.05,75.68 L462.25,76.29 L462.35,76.60 M463.95,81.49 L464.15,82.10 L464.35,82.70 L464.55,83.31 L464.75,83.92 L464.95,84.53 L465.15,85.13 L465.35,85.74 L465.45,86.04 M467.20,90.99 L467.40,91.47 L467.60,91.92 L467.80,92.37 L468.00,92.80 L468.20,93.22 L468.40,93.63 L468.60,94.03 L468.80,94.42 L469.00,94.82 L469.20,95.21 L469.30,95.40 M471.95,99.67 L472.15,99.91 L472.35,100.14 L472.55,100.35 L472.75,100.55 L472.95,100.74 L473.15,100.92 L473.35,101.09 L473.55,101.24 L473.75,101.39 L473.95,101.52 L474.15,101.64 L474.35,101.75 L474.55,101.85 L474.75,101.94 L474.95,102.02 L475.15,102.09 L475.35,102.15 L475.55,102.20 L475.75,102.24 L475.80,102.25 M480.35,100.84 L480.55,100.66 L480.75,100.46 L480.95,100.25 L481.15,100.03 L481.35,99.80 L481.55,99.57 L481.75,99.33 L481.95,99.09 L482.15,98.84 L482.35,98.58 L482.55,98.32 L482.75,98.06 L482.95,97.79 L483.15,97.51 L483.35,97.24 L483.40,97.16 M486.10,92.98 L486.30,92.65 L486.50,92.30 L486.70,91.95 L486.90,91.59 L487.10,91.22 L487.30,90.84 L487.50,90.45 L487.70,90.04 L487.90,89.62 L488.10,89.18 L488.30,88.73 L488.35,88.61 M490.25,83.85 L490.45,83.32 L490.65,82.79 L490.85,82.26 L491.05,81.72 L491.25,81.19 L491.45,80.66 L491.65,80.13 L491.85,79.60 L491.95,79.34 M493.90,74.58 L494.10,74.13 L494.30,73.69 L494.50,73.24 L494.70,72.80 L494.90,72.36 L495.10,71.91 L495.30,71.47 L495.50,71.03 L495.70,70.59 L495.90,70.15 M498.05,65.51 L498.25,65.08 L498.45,64.66 L498.65,64.24 L498.85,63.82 L499.05,63.40 L499.25,62.99 L499.45,62.57 L499.65,62.16 L499.85,61.75 L500.05,61.33 L500.15,61.13 M502.40,56.56 L502.60,56.16 L502.80,55.76 L503.00,55.36 L503.20,54.97 L503.40,54.57 L503.60,54.18 L503.80,53.78 L504.00,53.39 L504.20,53.00 L504.40,52.60 L504.60,52.22 M507.05,47.66 L507.25,47.31 L507.45,46.96 L507.65,46.61 L507.85,46.27 L508.05,45.93 L508.25,45.59 L508.45,45.26 L508.65,44.93 L508.85,44.60 L509.05,44.27 L509.25,43.95 L509.45,43.64 L509.55,43.48 M512.50,39.22 L512.70,38.95 L512.90,38.69 L513.10,38.43 L513.30,38.17 L513.50,37.92 L513.70,37.66 L513.90,37.41 L514.10,37.16 L514.30,36.92 L514.50,36.67 L514.70,36.43 L514.90,36.18 L515.10,35.94 L515.30,35.71 L515.50,35.47 L515.55,35.41 M518.95,31.57 L519.15,31.36 L519.35,31.15 L519.55,30.94 L519.75,30.73 L519.95,30.52 L520.15,30.31 L520.35,30.11 L520.55,29.91 L520.75,29.70 L520.95,29.50 L521.15,29.31 L521.35,29.11 L521.55,28.92 L521.75,28.73 L521.95,28.53 L522.15,28.35 L522.35,28.16 L522.40,28.11 M526.35,24.80 L526.55,24.66 L526.75,24.51 L526.95,24.37 L527.15,24.23 L527.35,24.09 L527.55,23.95 L527.75,23.82 L527.95,23.69 L528.15,23.56 L528.35,23.43 L528.55,23.31 L528.75,23.18 L528.95,23.06 L529.15,22.94 L529.35,22.83 L529.55,22.71 L529.75,22.60 L529.95,22.48 L530.15,22.37 L530.35,22.26 L530.50,22.18 M535.15,20.14 L535.35,20.07 L535.55,20.00 L535.75,19.93 L535.95,19.86 L536.15,19.80 L536.35,19.73 L536.55,19.67 L536.75,19.61 L536.95,19.55 L537.15,19.49 L537.35,19.43 L537.55,19.37 L537.75,19.31 L537.95,19.26 L538.15,19.21 L538.35,19.15 L538.55,19.10 L538.75,19.05 L538.95,19.01 L539.15,18.96 L539.35,18.91 L539.55,18.87 L539.75,18.83 L539.90,18.80 M544.95,18.37 L545.15,18.38 L545.35,18.39 L545.45,18.40" stroke="#000" stroke-width="1.9"/>
<path d="M318.50,18.20 L318.70,18.20 L318.90,18.20 L319.10,18.20 L319.30,18.20 L319.50,18.20 L319.70,18.20 L319.90,18.20 L320.10,18.20 L320.30,18.20 L320.50,18.20 L320.70,18.19 L320.90,18.19 L321.10,18.19 L321.30,18.19 L321.50,18.19 L321.70,18.19 L321.90,18.19 L322.10,18.19 L322.30,18.19 L322.45,18.19 M327.20,18.20 L327.40,18.20 L327.60,18.20 L327.80,18.20 L328.00,18.20 L328.20,18.20 L328.40,18.20 L328.60,18.20 L328.80,18.20 L329.00,18.20 L329.20,18.20 L329.40,18.21 L329.60,18.21 L329.80,18.21 L330.00,18.21 L330.20,18.21 L330.40,18.21 L330.60,18.21 L330.80,18.21 L331.00,18.21 L331.20,18.21 L331.40,18.22 L331.60,18.22 L331.80,18.22 L332.00,18.22 L332.20,18.22 L332.40,18.22 L332.45,18.22 M337.20,18.26 L337.40,18.27 L337.60,18.27 L337.80,18.27 L338.00,18.27 L338.20,18.28 L338.40,18.28 L338.60,18.28 L338.80,18.28 L339.00,18.29 L339.20,18.29 L339.40,18.29 L339.60,18.29 L339.80,18.30 L340.00,18.30 L340.20,18.30 L340.40,18.31 L340.60,18.31 L340.80,18.31 L341.00,18.31 L341.20,18.32 L341.40,18.32 L341.60,18.32 L341.80,18.33 L342.00,18.33 L342.20,18.34 L342.40,18.34 L342.45,18.34 M347.20,18.44 L347.40,18.44 L347.60,18.45 L347.80,18.45 L348.00,18.46 L348.20,18.46 L348.40,18.47 L348.60,18.47 L348.80,18.48 L349.00,18.48 L349.20,18.48 L349.40,18.49 L349.60,18.49 L349.80,18.50 L350.00,18.50 L350.20,18.51 L350.40,18.51 L350.60,18.52 L350.80,18.52 L351.00,18.53 L351.20,18.53 L351.40,18.54 L351.60,18.54 L351.80,18.55 L352.00,18.55 L352.20,18.55 L352.40,18.56 L352.45,18.56 M357.20,18.66 L357.40,18.66 L357.60,18.66 L357.80,18.67 L358.00,18.67 L358.20,18.67 L358.40,18.68 L358.60,18.68 L358.80,18.68 L359.00,18.69 L359.20,18.69 L359.40,18.69 L359.60,18.69 L359.80,18.70 L360.00,18.70 L360.20,18.70 L360.40,18.70 L360.60,18.71 L360.80,18.71 L361.00,18.71 L361.20,18.71 L361.40,18.72 L361.60,18.72 L361.80,18.72 L362.00,18.72 L362.20,18.73 L362.40,18.73 L362.45,18.73 M367.20,18.79 L367.40,18.79 L367.60,18.79 L367.80,18.79 L368.00,18.80 L368.20,18.80 L368.40,18.80 L368.60,18.80 L368.80,18.80 L369.00,18.81 L369.20,18.81 L369.40,18.81 L369.60,18.81 L369.80,18.81 L370.00,18.82 L370.20,18.82 L370.40,18.82 L370.60,18.82 L370.80,18.83 L371.00,18.83 L371.20,18.83 L371.40,18.83 L371.60,18.83 L371.80,18.84 L372.00,18.84 L372.20,18.84 L372.40,18.84 L372.45,18.84 M377.20,18.88 L377.40,18.88 L377.60,18.88 L377.80,18.89 L378.00,18.89 L378.20,18.89 L378.40,18.89 L378.60,18.89 L378.80,18.89 L379.00,18.89 L379.20,18.90 L379.40,18.90 L379.60,18.90 L379.80,18.90 L380.00,18.90 L380.20,18.90 L380.40,18.90 L380.60,18.90 L380.80,18.90 L381.00,18.91 L381.20,18.91 L381.40,18.91 L381.60,18.91 L381.80,18.91 L382.00,18.91 L382.20,18.91 L382.40,18.91 L382.45,18.91 M387.20,18.94 L387.40,18.94 L387.60,18.94 L387.80,18.94 L388.00,18.94 L388.20,18.94 L388.40,18.94 L388.60,18.94 L388.80,18.94 L389.00,18.95 L389.20,18.95 L389.40,18.95 L389.60,18.95 L389.80,18.95 L390.00,18.95 L390.20,18.95 L390.40,18.95 L390.60,18.95 L390.80,18.95 L391.00,18.95 L391.20,18.96 L391.40,18.96 L391.60,18.96 L391.80,18.96 L392.00,18.96 L392.20,18.96 L392.40,18.96 L392.45,18.96 M397.20,18.98 L397.40,18.99 L397.60,18.99 L397.80,18.99 L398.00,18.99 L398.20,18.99 L398.40,18.99 L398.60,18.99 L398.80,18.99 L399.00,18.99 L399.20,19.00 L399.40,19.00 L399.60,19.00 L399.80,19.00 L400.00,19.00 L400.20,19.00 L400.40,19.00 L400.60,19.00 L400.80,19.00 L401.00,19.01 L401.20,19.01 L401.40,19.01 L401.60,19.01 L401.80,19.01 L402.00,19.01 L402.20,19.01 L402.40,19.01 L402.45,19.01 M407.20,19.05 L407.40,19.05 L407.60,19.05 L407.80,19.05 L408.00,19.05 L408.20,19.05 L408.40,19.05 L408.60,19.06 L408.80,19.06 L409.00,19.06 L409.20,19.06 L409.40,19.06 L409.60,19.06 L409.80,19.06 L410.00,19.07 L410.20,19.07 L410.40,19.07 L410.60,19.07 L410.80,19.07 L411.00,19.07 L411.20,19.07 L411.40,19.08 L411.60,19.08 L411.80,19.08 L412.00,19.08 L412.20,19.08 L412.40,19.08 L412.45,19.08 M417.20,19.11 L417.40,19.11 L417.60,19.11 L417.80,19.11 L418.00,19.11 L418.20,19.11 L418.40,19.11 L418.60,19.11 L418.80,19.11 L419.00,19.11 L419.20,19.11 L419.40,19.11 L419.60,19.11 L419.80,19.11 L420.00,19.11 L420.20,19.11 L420.40,19.11 L420.60,19.11 L420.80,19.11 L421.00,19.11 L421.20,19.11 L421.40,19.11 L421.60,19.11 L421.80,19.11 L422.00,19.11 L422.20,19.11 L422.40,19.11 L422.45,19.11 M427.20,19.10 L427.40,19.10 L427.60,19.10 L427.80,19.10 L428.00,19.10 L428.20,19.10 L428.40,19.10 L428.60,19.10 L428.80,19.10 L429.00,19.10 L429.20,19.10 L429.40,19.10 L429.60,19.10 L429.80,19.10 L430.00,19.10 L430.20,19.10 L430.40,19.10 L430.60,19.10 L430.80,19.10 L431.00,19.10 L431.20,19.10 L431.40,19.10 L431.60,19.10 L431.80,19.10 L432.00,19.10 L432.20,19.10 L432.40,19.10 L432.45,19.10 M437.20,19.39 L437.40,19.41 L437.60,19.43 L437.80,19.45 L438.00,19.47 L438.20,19.49 L438.40,19.51 L438.60,19.53 L438.80,19.55 L439.00,19.57 L439.20,19.59 L439.40,19.61 L439.60,19.62 L439.80,19.64 L440.00,19.66 L440.20,19.68 L440.40,19.70 L440.60,19.72 L440.80,19.74 L441.00,19.77 L441.20,19.79 L441.40,19.82 L441.60,19.86 L441.80,19.89 L442.00,19.93 L442.20,19.97 L442.40,20.01 M446.95,21.40 L447.15,21.49 L447.35,21.58 L447.55,21.68 L447.75,21.79 L447.95,21.91 L448.15,22.03 L448.35,22.17 L448.55,22.30 L448.75,22.45 L448.95,22.60 L449.15,22.76 L449.35,22.92 L449.55,23.09 L449.75,23.27 L449.95,23.45 L450.15,23.64 L450.35,23.83 L450.55,24.03 L450.75,24.23 L450.95,24.44 L451.10,24.60 M454.00,28.32 L454.20,28.62 L454.40,28.93 L454.60,29.25 L454.80,29.57 L455.00,29.90 L455.20,30.23 L455.40,30.57 L455.60,30.92 L455.80,31.27 L456.00,31.62 L456.20,31.98 L456.40,32.35 L456.60,32.73 L456.65,32.83 M458.75,37.12 L458.95,37.53 L459.15,37.94 L459.35,38.35 L459.55,38.75 L459.75,39.15 L459.95,39.54 L460.15,39.92 L460.35,40.29 L460.55,40.66 L460.75,41.02 L460.95,41.37 L461.15,41.71 M463.95,45.58 L464.15,45.75 L464.35,45.91 L464.55,46.04 L464.75,46.16 L464.95,46.26 L465.15,46.34 L465.35,46.41 L465.55,46.46 L465.75,46.49 L465.95,46.52 L466.15,46.53 L466.35,46.52 L466.55,46.51 L466.75,46.48 L466.95,46.45 L467.15,46.42 L467.35,46.38 L467.55,46.33 L467.75,46.28 L467.95,46.21 L468.15,46.13 L468.35,46.04 L468.55,45.94 L468.75,45.82 L468.85,45.75 M472.10,42.29 L472.30,42.06 L472.50,41.83 L472.70,41.60 L472.90,41.37 L473.10,41.13 L473.30,40.90 L473.50,40.67 L473.70,40.43 L473.90,40.20 L474.10,39.96 L474.30,39.73 L474.50,39.49 L474.70,39.25 L474.90,39.01 L475.10,38.78 L475.30,38.54 L475.45,38.35 M478.55,34.65 L478.75,34.42 L478.95,34.19 L479.15,33.96 L479.35,33.73 L479.55,33.51 L479.75,33.29 L479.95,33.08 L480.15,32.88 L480.35,32.68 L480.55,32.48 L480.75,32.29 L480.95,32.10 L481.15,31.92 L481.35,31.74 L481.55,31.56 L481.75,31.39 L481.95,31.23 L482.15,31.06 L482.25,30.98 M486.15,28.29 L486.35,28.17 L486.55,28.04 L486.75,27.92 L486.95,27.80 L487.15,27.68 L487.35,27.56 L487.55,27.45 L487.75,27.33 L487.95,27.22 L488.15,27.10 L488.35,26.99 L488.55,26.88 L488.75,26.77 L488.95,26.66 L489.15,26.55 L489.35,26.45 L489.55,26.34 L489.75,26.24 L489.95,26.14 L490.15,26.04 L490.35,25.95 L490.55,25.85 L490.75,25.76 M495.20,24.04 L495.40,23.97 L495.60,23.90 L495.80,23.84 L496.00,23.77 L496.20,23.70 L496.40,23.64 L496.60,23.57 L496.80,23.51 L497.00,23.45 L497.20,23.38 L497.40,23.32 L497.60,23.26 L497.80,23.20 L498.00,23.15 L498.20,23.09 L498.40,23.03 L498.60,22.98 L498.80,22.93 L499.00,22.87 L499.20,22.82 L499.40,22.78 L499.60,22.73 L499.80,22.68 L500.00,22.64 L500.20,22.59 M504.90,21.78 L505.10,21.74 L505.30,21.71 L505.50,21.68 L505.70,21.65 L505.90,21.61 L506.10,21.58 L506.30,21.55 L506.50,21.52 L506.70,21.48 L506.90,21.45 L507.10,21.42 L507.30,21.39 L507.50,21.35 L507.70,21.32 L507.90,21.29 L508.10,21.26 L508.30,21.23 L508.50,21.20 L508.70,21.16 L508.90,21.13 L509.10,21.10 L509.30,21.07 L509.50,21.04 L509.70,21.01 L509.90,20.98 L510.10,20.95 M514.80,20.19 L515.00,20.16 L515.20,20.12 L515.40,20.09 L515.60,20.06 L515.80,20.02 L516.00,19.99 L516.20,19.96 L516.40,19.92 L516.60,19.89 L516.80,19.86 L517.00,19.83 L517.20,19.79 L517.40,19.76 L517.60,19.73 L517.80,19.70 L518.00,19.67 L518.20,19.64 L518.40,19.61 L518.60,19.58 L518.80,19.55 L519.00,19.53 L519.20,19.50 L519.40,19.47 L519.60,19.45 L519.80,19.42 L519.95,19.40 M524.70,19.05 L524.90,19.04 L525.10,19.04 L525.30,19.03 L525.50,19.02 L525.70,19.01 L525.90,19.00 L526.10,18.99 L526.30,18.99 L526.50,18.98 L526.70,18.97 L526.90,18.97 L527.10,18.96 L527.30,18.95 L527.50,18.95 L527.70,18.94 L527.90,18.93 L528.10,18.93 L528.30,18.92 L528.50,18.92 L528.70,18.91 L528.90,18.90 L529.10,18.90 L529.30,18.89 L529.50,18.89 L529.70,18.88 L529.90,18.88 L529.95,18.88 M534.70,18.73 L534.90,18.73 L535.10,18.72 L535.30,18.71 L535.50,18.71 L535.70,18.70 L535.90,18.69 L536.10,18.69 L536.30,18.68 L536.50,18.68 L536.70,18.67 L536.90,18.66 L537.10,18.66 L537.30,18.65 L537.50,18.64 L537.70,18.64 L537.90,18.63 L538.10,18.62 L538.30,18.62 L538.50,18.61 L538.70,18.60 L538.90,18.60 L539.10,18.59 L539.30,18.59 L539.50,18.58 L539.70,18.57 L539.90,18.57 L539.95,18.57 M544.70,18.42 L544.90,18.42 L545.10,18.41 L545.30,18.41 L545.45,18.40" stroke="#ff1414" stroke-width="1.15"/>
<path d="M318.50,18.00 L319.00,18.00 L319.50,18.00 L320.00,18.00 L320.50,18.00 L321.00,18.00 L321.50,18.00 L322.00,18.00 L322.50,18.00 L323.00,18.00 L323.50,18.00 L324.00,18.00 L324.50,18.00 L325.00,18.00 L325.50,18.00 L326.00,18.00 L326.50,18.00 L327.00,18.00 L327.50,18.00 L328.00,18.00 L328.50,18.00 L329.00,18.00 L329.50,18.00 L330.00,18.00 L330.50,18.00 L331.00,18.00 L331.50,18.00 L332.00,18.00 L332.50,18.00 L333.00,18.00 L333.50,18.00 L334.00,18.00 L334.50,18.00 L335.00,18.00 L335.50,18.00 L336.00,18.00 L336.50,18.00 L337.00,18.00 L337.50,18.00 L338.00,18.00 L338.50,18.00 L339.00,18.00 L339.50,18.00 L340.00,18.00 L340.50,18.00 L341.00,18.00 L341.50,18.00 L342.00,18.00 L342.50,18.00 L343.00,18.00 L343.50,18.00 L344.00,18.00 L344.50,18.00 L345.00,18.00 L345.50,18.00 L346.00,18.00 L346.50,18.00 L347.00,18.00 L347.50,18.00 L348.00,18.00 L348.50,18.00 L349.00,18.00 L349.50,18.00 L350.00,18.00 L350.50,18.00 L351.00,18.00 L351.50,18.00 L352.00,18.00 L352.50,18.00 L353.00,18.00 L353.50,18.00 L354.00,18.00 L354.50,18.00 L355.00,18.00 L355.50,18.00 L356.00,18.00 L356.50,18.00 L357.00,18.00 L357.50,18.00 L358.00,18.00 L358.50,18.00 L359.00,18.00 L359.50,18.00 L360.00,18.00 L360.50,18.00 L361.00,18.00 L361.50,18.00 L362.00,18.00 L362.50,18.00 L363.00,18.00 L363.50,18.00 L364.00,18.00 L364.50,18.00 L365.00,18.00 L365.50,18.00 L366.00,18.00 L366.50,18.00 L367.00,18.00 L367.50,18.00 L368.00,18.00 L368.50,18.00 L369.00,18.00 L369.50,18.00 L370.00,18.00 L370.50,18.00 L371.00,18.00 L371.50,18.00 L372.00,18.00 L372.50,18.00 L373.00,18.00 L373.50,18.00 L374.00,18.00 L374.50,18.00 L375.00,18.00 L375.50,18.00 L376.00,18.00 L376.50,18.00 L377.00,18.00 L377.50,18.00 L378.00,18.00 L378.50,18.00 L379.00,18.00 L379.50,18.00 L380.00,18.00 L380.50,18.00 L381.00,18.00 L381.50,18.00 L382.00,18.00 L382.50,18.00 L383.00,18.00 L383.50,18.00 L384.00,18.00 L384.50,18.00 L385.00,18.00 L385.50,18.00 L386.00,18.00 L386.50,18.00 L387.00,18.00 L387.50,18.00 L388.00,18.00 L388.50,18.00 L389.00,18.00 L389.50,18.00 L390.00,18.00 L390.50,18.00 L391.00,18.00 L391.50,18.00 L392.00,18.00 L392.50,18.00 L393.00,18.00 L393.50,18.00 L394.00,18.00 L394.50,18.00 L395.00,18.00 L395.50,18.00 L396.00,18.00 L396.50,18.00 L397.00,18.00 L397.50,18.00 L398.00,18.00 L398.50,18.00 L399.00,18.00 L399.50,18.00 L400.00,18.00 L400.50,18.00 L401.00,18.00 L401.50,18.00 L402.00,18.00 L402.50,18.00 L403.00,18.00 L403.50,18.00 L404.00,18.00 L404.50,18.00 L405.00,18.00 L405.50,18.00 L406.00,18.00 L406.50,18.00 L407.00,18.00 L407.50,18.00 L408.00,18.00 L408.50,18.00 L409.00,18.00 L409.50,18.00 L410.00,18.00 L410.50,18.00 L411.00,18.00 L411.50,18.00 L412.00,18.00 L412.50,18.00 L413.00,18.00 L413.50,18.00 L414.00,18.00 L414.50,18.00 L415.00,18.00 L415.50,18.00 L416.00,18.00 L416.50,18.00 L417.00,18.00 L417.50,18.00 L418.00,18.00 L418.50,18.00 L419.00,18.00 L419.50,18.00 L420.00,18.00 L420.50,18.00 L421.00,18.00 L421.50,18.00 L422.00,18.00 L422.50,18.00 L423.00,18.00 L423.50,18.00 L424.00,18.00 L424.50,18.00 L425.00,18.00 L425.50,18.00 L426.00,18.00 L426.50,18.00 L427.00,18.00 L427.50,18.00 L428.00,18.00 L428.50,18.00 L429.00,18.00 L429.50,18.00 L430.00,18.00 L430.50,18.00 L431.00,18.00 L431.50,18.00 L432.00,18.00 L432.50,18.00 L433.00,18.00 L433.50,18.00 L434.00,18.00 L434.50,18.00 L435.00,18.00 L435.50,18.00 L436.00,18.00 L436.50,18.00 L437.00,18.00 L437.50,18.00 L438.00,18.00 L438.50,18.00 L439.00,18.00 L439.50,18.00 L440.00,18.00 L440.50,18.00 L441.00,18.00 L441.50,18.00 L442.00,18.01 L442.50,18.01 L443.00,18.02 L443.50,18.02 L444.00,18.03 L444.50,18.04 L445.00,18.05 L445.50,18.06 L446.00,18.07 L446.50,18.08 L447.00,18.09 L447.50,18.10 L448.00,18.11 L448.50,18.12 L449.00,18.13 L449.50,18.14 L450.00,18.15 L450.50,18.16 L451.00,18.18 L451.50,18.20 L452.00,18.22 L452.50,18.24 L453.00,18.26 L453.50,18.29 L454.00,18.31 L454.50,18.34 L455.00,18.36 L455.50,18.38 L456.00,18.40 L456.50,18.42 L457.00,18.43 L457.50,18.44 L458.00,18.45 L458.50,18.45 L459.00,18.46 L459.50,18.46 L460.00,18.47 L460.50,18.47 L461.00,18.47 L461.50,18.48 L462.00,18.48 L462.50,18.48 L463.00,18.49 L463.50,18.49 L464.00,18.49 L464.50,18.49 L465.00,18.49 L465.50,18.50 L466.00,18.50 L466.50,18.50 L467.00,18.50 L467.50,18.50 L468.00,18.50 L468.50,18.50 L469.00,18.50 L469.50,18.50 L470.00,18.50 L470.50,18.50 L471.00,18.50 L471.50,18.50 L472.00,18.50 L472.50,18.50 L473.00,18.50 L473.50,18.50 L474.00,18.50 L474.50,18.50 L475.00,18.50 L475.50,18.50 L476.00,18.50 L476.50,18.50 L477.00,18.50 L477.50,18.50 L478.00,18.50 L478.50,18.50 L479.00,18.50 L479.50,18.50 L480.00,18.50 L480.50,18.50 L481.00,18.50 L481.50,18.50 L482.00,18.50 L482.50,18.50 L483.00,18.50 L483.50,18.51 L484.00,18.51 L484.50,18.51 L485.00,18.51 L485.50,18.51 L486.00,18.51 L486.50,18.51 L487.00,18.51 L487.50,18.52 L488.00,18.52 L488.50,18.52 L489.00,18.51 L489.50,18.51 L490.00,18.51 L490.50,18.51 L491.00,18.51 L491.50,18.50 L492.00,18.50 L492.50,18.49 L493.00,18.49 L493.50,18.48 L494.00,18.47 L494.50,18.46 L495.00,18.45 L495.50,18.44 L496.00,18.43 L496.50,18.41 L497.00,18.40 L497.50,18.38 L498.00,18.37 L498.50,18.35 L499.00,18.33 L499.50,18.32 L500.00,18.30 L500.50,18.28 L501.00,18.26 L501.50,18.25 L502.00,18.23 L502.50,18.22 L503.00,18.20 L503.50,18.19 L504.00,18.17 L504.50,18.16 L505.00,18.14 L505.50,18.13 L506.00,18.11 L506.50,18.10 L507.00,18.08 L507.50,18.07 L508.00,18.05 L508.50,18.04 L509.00,18.03 L509.50,18.01 L510.00,18.00 L510.50,17.99 L511.00,17.97 L511.50,17.96 L512.00,17.95 L512.50,17.94 L513.00,17.93 L513.50,17.92 L514.00,17.91 L514.50,17.90 L515.00,17.89 L515.50,17.89 L516.00,17.88 L516.50,17.87 L517.00,17.87 L517.50,17.86 L518.00,17.85 L518.50,17.85 L519.00,17.84 L519.50,17.84 L520.00,17.84 L520.50,17.83 L521.00,17.83 L521.50,17.83 L522.00,17.82 L522.50,17.82 L523.00,17.82 L523.50,17.82 L524.00,17.82 L524.50,17.82 L525.00,17.82 L525.50,17.82 L526.00,17.82 L526.50,17.82 L527.00,17.82 L527.50,17.82 L528.00,17.82 L528.50,17.82 L529.00,17.83 L529.50,17.83 L530.00,17.83 L530.50,17.83 L531.00,17.84 L531.50,17.84 L532.00,17.84 L532.50,17.85 L533.00,17.85 L533.50,17.85 L534.00,17.86 L534.50,17.86 L535.00,17.87 L535.50,17.87 L536.00,17.88 L536.50,17.88 L537.00,17.89 L537.50,17.89 L538.00,17.90 L538.50,17.91 L539.00,17.91 L539.50,17.92 L540.00,17.93 L540.50,17.93 L541.00,17.94 L541.50,17.94 L542.00,17.95 L542.50,17.96 L543.00,17.96 L543.50,17.97 L544.00,17.98 L544.50,17.99 L545.00,17.99 L545.50,18.00" stroke="#1a1aff" stroke-width="1.3"/>
</g>
<text transform="translate(318.50,132.90) scale(0.97,1)" text-anchor="middle">0</text>
<text transform="translate(381.56,132.90) scale(0.97,1)" text-anchor="middle">50</text>
<text transform="translate(444.61,132.90) scale(0.97,1)" text-anchor="middle">100</text>
<text transform="translate(507.67,132.90) scale(0.97,1)" text-anchor="middle">150</text>
<text transform="translate(316.00,124.50) scale(0.97,1)" text-anchor="end">−1</text>
<text transform="translate(316.00,99.00) scale(0.97,1)" text-anchor="end">−0.5</text>
<text transform="translate(316.00,73.50) scale(0.97,1)" text-anchor="end">0</text>
<text transform="translate(316.00,48.00) scale(0.97,1)" text-anchor="end">0.5</text>
<text transform="translate(316.00,22.50) scale(0.97,1)" text-anchor="end">1</text>
</g>
<g id="panel3">
<clipPath id="clip3"><rect x="44.5" y="165.5" width="230.0" height="103.0"/></clipPath>
<rect x="45.7" y="166.3" width="228.00" height="101.70" fill="none" stroke="#9a9a9a" stroke-width="1.4"/>
<path d="M108.83,268.0v-2.5 M108.83,166.3v2.5 M172.17,268.0v-2.5 M172.17,166.3v2.5 M235.50,268.0v-2.5 M235.50,166.3v2.5 M45.7,242.25h2.5 M273.7,242.25h-2.5 M45.7,217.00h2.5 M273.7,217.00h-2.5 M45.7,191.75h2.5 M273.7,191.75h-2.5" stroke="#707070" stroke-width="1" fill="none"/>
<g clip-path="url(#clip3)" fill="none" stroke-linejoin="round">
<path d="M45.50,217.00 L45.70,217.00 L45.90,216.99 L46.10,216.99 L46.30,216.99 L46.50,216.98 L46.70,216.98 L46.90,216.97 L47.10,216.97 L47.30,216.97 L47.50,216.96 L47.70,216.96 L47.90,216.95 L48.10,216.94 L48.30,216.94 L48.50,216.93 L48.70,216.93 L48.90,216.92 L49.10,216.92 L49.30,216.91 L49.50,216.90 L49.70,216.89 L49.90,216.89 L50.10,216.88 L50.30,216.87 L50.50,216.86 L50.70,216.86 L50.75,216.85 M55.50,216.61 L55.70,216.59 L55.90,216.58 L56.10,216.57 L56.30,216.55 L56.50,216.54 L56.70,216.53 L56.90,216.51 L57.10,216.50 L57.30,216.48 L57.50,216.47 L57.70,216.45 L57.90,216.44 L58.10,216.42 L58.30,216.41 L58.50,216.39 L58.70,216.38 L58.90,216.36 L59.10,216.34 L59.30,216.33 L59.50,216.31 L59.70,216.30 L59.90,216.28 L60.10,216.26 L60.30,216.25 L60.50,216.23 L60.70,216.21 L60.75,216.21 M65.50,215.77 L65.70,215.75 L65.90,215.73 L66.10,215.71 L66.30,215.69 L66.50,215.67 L66.70,215.65 L66.90,215.63 L67.10,215.61 L67.30,215.59 L67.50,215.56 L67.70,215.54 L67.90,215.52 L68.10,215.50 L68.30,215.48 L68.50,215.46 L68.70,215.43 L68.90,215.41 L69.10,215.39 L69.30,215.37 L69.50,215.35 L69.70,215.32 L69.90,215.30 L70.10,215.28 L70.30,215.26 L70.50,215.23 L70.70,215.21 M75.40,214.63 L75.60,214.60 L75.80,214.58 L76.00,214.55 L76.20,214.52 L76.40,214.50 L76.60,214.47 L76.80,214.44 L77.00,214.41 L77.20,214.38 L77.40,214.36 L77.60,214.33 L77.80,214.30 L78.00,214.27 L78.20,214.24 L78.40,214.21 L78.60,214.18 L78.80,214.16 L79.00,214.13 L79.20,214.10 L79.40,214.07 L79.60,214.04 L79.80,214.01 L80.00,213.98 L80.20,213.95 L80.40,213.92 L80.60,213.89 M85.30,213.15 L85.50,213.12 L85.70,213.08 L85.90,213.05 L86.10,213.02 L86.30,212.99 L86.50,212.96 L86.70,212.92 L86.90,212.89 L87.10,212.86 L87.30,212.83 L87.50,212.80 L87.70,212.76 L87.90,212.73 L88.10,212.70 L88.30,212.67 L88.50,212.64 L88.70,212.60 L88.90,212.57 L89.10,212.53 L89.30,212.50 L89.50,212.46 L89.70,212.43 L89.90,212.39 L90.10,212.36 L90.30,212.32 L90.50,212.28 M95.15,211.42 L95.35,211.39 L95.55,211.35 L95.75,211.32 L95.95,211.28 L96.15,211.25 L96.35,211.22 L96.55,211.19 L96.75,211.16 L96.95,211.12 L97.15,211.09 L97.35,211.06 L97.55,211.04 L97.75,211.01 L97.95,210.98 L98.15,210.95 L98.35,210.93 L98.55,210.90 L98.75,210.88 L98.95,210.86 L99.15,210.84 L99.35,210.82 L99.55,210.80 L99.75,210.78 L99.95,210.76 L100.15,210.75 L100.35,210.73 M105.10,210.54 L105.30,210.54 L105.50,210.54 L105.70,210.54 L105.90,210.53 L106.10,210.53 L106.30,210.53 L106.50,210.52 L106.70,210.52 L106.90,210.52 L107.10,210.52 L107.30,210.51 L107.50,210.51 L107.70,210.51 L107.90,210.50 L108.10,210.50 L108.30,210.49 L108.50,210.49 L108.70,210.49 L108.90,210.48 L109.10,210.48 L109.30,210.48 L109.50,210.47 L109.70,210.47 L109.90,210.47 L110.10,210.47 L110.30,210.46 L110.35,210.46 M115.10,210.44 L115.30,210.44 L115.50,210.44 L115.70,210.44 L115.90,210.44 L116.10,210.44 L116.30,210.44 L116.50,210.45 L116.70,210.45 L116.90,210.45 L117.10,210.45 L117.30,210.46 L117.50,210.46 L117.70,210.46 L117.90,210.47 L118.10,210.47 L118.30,210.47 L118.50,210.48 L118.70,210.48 L118.90,210.49 L119.10,210.49 L119.30,210.49 L119.50,210.50 L119.70,210.51 L119.90,210.51 L120.10,210.52 L120.30,210.52 L120.35,210.53 M125.10,210.77 L125.30,210.79 L125.50,210.80 L125.70,210.82 L125.90,210.84 L126.10,210.85 L126.30,210.87 L126.50,210.88 L126.70,210.90 L126.90,210.92 L127.10,210.94 L127.30,210.96 L127.50,210.97 L127.70,210.99 L127.90,211.01 L128.10,211.03 L128.30,211.05 L128.50,211.07 L128.70,211.10 L128.90,211.12 L129.10,211.14 L129.30,211.16 L129.50,211.18 L129.70,211.21 L129.90,211.23 L130.10,211.25 L130.30,211.28 M135.00,211.97 L135.20,212.00 L135.40,212.04 L135.60,212.07 L135.80,212.11 L136.00,212.14 L136.20,212.18 L136.40,212.22 L136.60,212.25 L136.80,212.29 L137.00,212.33 L137.20,212.36 L137.40,212.40 L137.60,212.44 L137.80,212.48 L138.00,212.52 L138.20,212.55 L138.40,212.59 L138.60,212.63 L138.80,212.67 L139.00,212.71 L139.20,212.75 L139.40,212.79 L139.60,212.83 L139.80,212.86 L140.00,212.90 L140.20,212.94 M144.85,213.90 L145.05,213.94 L145.25,213.99 L145.45,214.04 L145.65,214.08 L145.85,214.13 L146.05,214.18 L146.25,214.23 L146.45,214.28 L146.65,214.33 L146.85,214.38 L147.05,214.43 L147.25,214.49 L147.45,214.54 L147.65,214.59 L147.85,214.65 L148.05,214.70 L148.25,214.76 L148.45,214.81 L148.65,214.87 L148.85,214.93 L149.05,215.00 L149.25,215.06 L149.45,215.13 L149.65,215.20 L149.85,215.27 L149.90,215.29 M154.20,217.28 L154.40,217.39 L154.60,217.50 L154.80,217.61 L155.00,217.73 L155.20,217.84 L155.40,217.96 L155.60,218.08 L155.80,218.19 L156.00,218.31 L156.20,218.43 L156.40,218.55 L156.60,218.68 L156.80,218.80 L157.00,218.92 L157.20,219.05 L157.40,219.18 L157.60,219.30 L157.80,219.43 L158.00,219.56 L158.20,219.69 L158.40,219.83 L158.60,219.96 L158.65,219.99 M162.55,222.78 L162.75,222.93 L162.95,223.08 L163.15,223.23 L163.35,223.38 L163.55,223.54 L163.75,223.69 L163.95,223.84 L164.15,223.99 L164.35,224.15 L164.55,224.30 L164.75,224.45 L164.95,224.61 L165.15,224.76 L165.35,224.92 L165.55,225.07 L165.75,225.22 L165.95,225.38 L166.15,225.53 L166.35,225.69 L166.55,225.84 L166.70,225.96 M170.35,228.98 L170.55,229.16 L170.75,229.34 L170.95,229.52 L171.15,229.71 L171.35,229.90 L171.55,230.09 L171.75,230.28 L171.95,230.48 L172.15,230.68 L172.35,230.88 L172.55,231.09 L172.75,231.29 L172.95,231.50 L173.15,231.72 L173.35,231.94 L173.55,232.16 L173.75,232.38 L173.95,232.61 L174.05,232.73 M176.95,236.48 L177.15,236.76 L177.35,237.04 L177.55,237.32 L177.75,237.60 L177.95,237.88 L178.15,238.17 L178.35,238.45 L178.55,238.73 L178.75,239.02 L178.95,239.30 L179.15,239.58 L179.35,239.87 L179.55,240.15 L179.75,240.43 L179.95,240.71 L180.00,240.78 M182.60,244.71 L182.80,245.01 L183.00,245.32 L183.20,245.62 L183.40,245.92 L183.60,246.22 L183.80,246.51 L184.00,246.80 L184.20,247.08 L184.40,247.34 L184.60,247.58 L184.80,247.81 L185.00,248.02 L185.20,248.22 L185.40,248.41 L185.60,248.58 L185.80,248.74 L185.85,248.78 M189.85,248.96 L190.05,248.50 L190.25,247.95 L190.45,247.33 L190.65,246.69 L190.85,246.05 L191.05,245.40 L191.25,244.75 L191.40,244.26 M192.80,239.66 L193.00,239.01 L193.20,238.36 L193.40,237.72 L193.60,237.08 L193.80,236.44 L194.00,235.81 L194.20,235.17 L194.30,234.85 M195.70,230.41 L195.90,229.78 L196.10,229.15 L196.30,228.52 L196.50,227.90 L196.70,227.29 L196.90,226.68 L197.10,226.10 L197.30,225.53 M198.95,221.20 L199.15,220.72 L199.35,220.24 L199.55,219.76 L199.75,219.29 L199.95,218.82 L200.15,218.35 L200.35,217.88 L200.55,217.43 L200.75,216.98 L200.95,216.53 M203.10,212.43 L203.30,212.11 L203.50,211.81 L203.70,211.51 L203.90,211.23 L204.10,210.96 L204.30,210.70 L204.50,210.45 L204.70,210.21 L204.90,209.98 L205.10,209.75 L205.30,209.54 L205.50,209.33 L205.70,209.12 L205.90,208.93 L206.10,208.75 L206.30,208.57 L206.35,208.53 M210.50,206.63 L210.70,206.58 L210.90,206.52 L211.10,206.47 L211.30,206.42 L211.50,206.37 L211.70,206.32 L211.90,206.28 L212.10,206.23 L212.30,206.19 L212.50,206.15 L212.70,206.11 L212.90,206.07 L213.10,206.04 L213.30,206.00 L213.50,205.97 L213.70,205.94 L213.90,205.92 L214.10,205.89 L214.30,205.87 L214.50,205.85 L214.70,205.84 L214.90,205.82 L215.10,205.81 L215.30,205.80 L215.50,205.80 L215.55,205.80 M220.30,205.77 L220.50,205.77 L220.70,205.78 L220.90,205.79 L221.10,205.79 L221.30,205.80 L221.50,205.81 L221.70,205.82 L221.90,205.83 L222.10,205.84 L222.30,205.85 L222.50,205.87 L222.70,205.88 L222.90,205.90 L223.10,205.92 L223.30,205.94 L223.50,205.96 L223.70,205.98 L223.90,206.00 L224.10,206.02 L224.30,206.05 L224.50,206.07 L224.70,206.09 L224.90,206.12 L225.10,206.14 L225.30,206.16 L225.50,206.19 M230.20,206.82 L230.40,206.85 L230.60,206.89 L230.80,206.92 L231.00,206.96 L231.20,207.00 L231.40,207.04 L231.60,207.07 L231.80,207.11 L232.00,207.16 L232.20,207.20 L232.40,207.24 L232.60,207.29 L232.80,207.33 L233.00,207.38 L233.20,207.43 L233.40,207.47 L233.60,207.53 L233.80,207.58 L234.00,207.63 L234.20,207.68 L234.40,207.73 L234.60,207.78 L234.80,207.83 L235.00,207.88 L235.20,207.93 L235.35,207.97 M239.95,209.12 L240.15,209.17 L240.35,209.23 L240.55,209.28 L240.75,209.33 L240.95,209.38 L241.15,209.43 L241.35,209.48 L241.55,209.53 L241.75,209.58 L241.95,209.63 L242.15,209.68 L242.35,209.73 L242.55,209.78 L242.75,209.83 L242.95,209.88 L243.15,209.93 L243.35,209.98 L243.55,210.03 L243.75,210.08 L243.95,210.13 L244.15,210.18 L244.35,210.23 L244.55,210.28 L244.75,210.33 L244.95,210.38 L245.05,210.41 M249.65,211.57 L249.85,211.62 L250.05,211.67 L250.25,211.72 L250.45,211.77 L250.65,211.82 L250.85,211.87 L251.05,211.92 L251.25,211.97 L251.45,212.02 L251.65,212.07 L251.85,212.12 L252.05,212.17 L252.25,212.22 L252.45,212.27 L252.65,212.32 L252.85,212.37 L253.05,212.42 L253.25,212.47 L253.45,212.52 L253.65,212.57 L253.85,212.63 L254.05,212.68 L254.25,212.73 L254.45,212.78 L254.65,212.83 L254.75,212.85 M259.35,214.01 L259.55,214.06 L259.75,214.11 L259.95,214.16 L260.15,214.21 L260.35,214.26 L260.55,214.31 L260.75,214.36 L260.95,214.41 L261.15,214.46 L261.35,214.51 L261.55,214.56 L261.75,214.61 L261.95,214.65 L262.15,214.70 L262.35,214.75 L262.55,214.80 L262.75,214.84 L262.95,214.89 L263.15,214.93 L263.35,214.98 L263.55,215.02 L263.75,215.07 L263.95,215.11 L264.15,215.16 L264.35,215.20 L264.45,215.22 M269.10,216.17 L269.30,216.21 L269.50,216.25 L269.70,216.29 L269.90,216.33 L270.10,216.36 L270.30,216.40 L270.50,216.44 L270.70,216.48 L270.90,216.52 L271.10,216.55 L271.30,216.59 L271.50,216.63 L271.70,216.67 L271.90,216.70 L272.10,216.74 L272.30,216.78 L272.50,216.81 L272.70,216.85 L272.90,216.89 L273.10,216.93 L273.30,216.96 L273.50,217.00 L273.50,217.00" stroke="#ff1414" stroke-width="1.15"/>
<path d="M45.50,217.00 L46.00,217.02 L46.50,217.04 L47.00,217.06 L47.50,217.08 L48.00,217.10 L48.50,217.12 L49.00,217.14 L49.50,217.16 L50.00,217.19 L50.50,217.21 L51.00,217.23 L51.50,217.25 L52.00,217.27 L52.50,217.30 L53.00,217.32 L53.50,217.34 L54.00,217.37 L54.50,217.39 L55.00,217.41 L55.50,217.44 L56.00,217.46 L56.50,217.48 L57.00,217.51 L57.50,217.53 L58.00,217.55 L58.50,217.58 L59.00,217.60 L59.50,217.63 L60.00,217.65 L60.50,217.68 L61.00,217.70 L61.50,217.72 L62.00,217.75 L62.50,217.77 L63.00,217.80 L63.50,217.82 L64.00,217.85 L64.50,217.87 L65.00,217.90 L65.50,217.92 L66.00,217.94 L66.50,217.97 L67.00,217.99 L67.50,218.02 L68.00,218.04 L68.50,218.07 L69.00,218.09 L69.50,218.11 L70.00,218.14 L70.50,218.16 L71.00,218.19 L71.50,218.21 L72.00,218.23 L72.50,218.26 L73.00,218.28 L73.50,218.30 L74.00,218.32 L74.50,218.35 L75.00,218.37 L75.50,218.39 L76.00,218.41 L76.50,218.44 L77.00,218.46 L77.50,218.48 L78.00,218.50 L78.50,218.52 L79.00,218.54 L79.50,218.56 L80.00,218.59 L80.50,218.61 L81.00,218.63 L81.50,218.65 L82.00,218.66 L82.50,218.68 L83.00,218.70 L83.50,218.72 L84.00,218.74 L84.50,218.76 L85.00,218.78 L85.50,218.79 L86.00,218.81 L86.50,218.83 L87.00,218.84 L87.50,218.86 L88.00,218.87 L88.50,218.89 L89.00,218.91 L89.50,218.92 L90.00,218.93 L90.50,218.95 L91.00,218.96 L91.50,218.97 L92.00,218.99 L92.50,219.00 L93.00,219.01 L93.50,219.02 L94.00,219.03 L94.50,219.04 L95.00,219.05 L95.50,219.06 L96.00,219.07 L96.50,219.08 L97.00,219.09 L97.50,219.09 L98.00,219.10 L98.50,219.11 L99.00,219.11 L99.50,219.12 L100.00,219.12 L100.50,219.13 L101.00,219.13 L101.50,219.13 L102.00,219.14 L102.50,219.14 L103.00,219.14 L103.50,219.14 L104.00,219.14 L104.50,219.14 L105.00,219.14 L105.50,219.14 L106.00,219.14 L106.50,219.13 L107.00,219.13 L107.50,219.12 L108.00,219.12 L108.50,219.11 L109.00,219.11 L109.50,219.10 L110.00,219.09 L110.50,219.09 L111.00,219.08 L111.50,219.07 L112.00,219.06 L112.50,219.04 L113.00,219.03 L113.50,219.02 L114.00,219.01 L114.50,218.99 L115.00,218.98 L115.50,218.96 L116.00,218.95 L116.50,218.93 L117.00,218.91 L117.50,218.89 L118.00,218.87 L118.50,218.85 L119.00,218.83 L119.50,218.81 L120.00,218.78 L120.50,218.76 L121.00,218.74 L121.50,218.71 L122.00,218.68 L122.50,218.66 L123.00,218.63 L123.50,218.60 L124.00,218.57 L124.50,218.54 L125.00,218.51 L125.50,218.47 L126.00,218.44 L126.50,218.41 L127.00,218.37 L127.50,218.33 L128.00,218.30 L128.50,218.26 L129.00,218.22 L129.50,218.18 L130.00,218.14 L130.50,218.09 L131.00,218.05 L131.50,218.01 L132.00,217.96 L132.50,217.92 L133.00,217.87 L133.50,217.82 L134.00,217.77 L134.50,217.72 L135.00,217.67 L135.50,217.61 L136.00,217.56 L136.50,217.51 L137.00,217.45 L137.50,217.39 L138.00,217.33 L138.50,217.28 L139.00,217.21 L139.50,217.15 L140.00,217.09 L140.50,217.03 L141.00,216.96 L141.50,216.90 L142.00,216.83 L142.50,216.76 L143.00,216.69 L143.50,216.62 L144.00,216.55 L144.50,216.47 L145.00,216.40 L145.50,216.32 L146.00,216.25 L146.50,216.17 L147.00,216.09 L147.50,216.01 L148.00,215.93 L148.50,215.84 L149.00,215.76 L149.50,215.67 L150.00,215.58 L150.50,215.50 L151.00,215.41 L151.50,215.31 L152.00,215.22 L152.50,215.13 L153.00,215.03 L153.50,214.94 L154.00,214.84 L154.50,214.74 L155.00,214.64 L155.50,214.54 L156.00,214.44 L156.50,214.33 L157.00,214.22 L157.50,214.12 L158.00,214.01 L158.50,213.90 L159.00,213.79 L159.50,213.68 L160.00,213.56 L160.50,213.45 L161.00,213.33 L161.50,213.22 L162.00,213.10 L162.50,212.99 L163.00,212.87 L163.50,212.75 L164.00,212.64 L164.50,212.52 L165.00,212.40 L165.50,212.28 L166.00,212.17 L166.50,212.05 L167.00,211.94 L167.50,211.82 L168.00,211.71 L168.50,211.59 L169.00,211.48 L169.50,211.37 L170.00,211.26 L170.50,211.15 L171.00,211.04 L171.50,210.93 L172.00,210.82 L172.50,210.72 L173.00,210.62 L173.50,210.52 L174.00,210.42 L174.50,210.32 L175.00,210.23 L175.50,210.13 L176.00,210.04 L176.50,209.95 L177.00,209.87 L177.50,209.79 L178.00,209.70 L178.50,209.63 L179.00,209.55 L179.50,209.48 L180.00,209.41 L180.50,209.34 L181.00,209.28 L181.50,209.22 L182.00,209.16 L182.50,209.10 L183.00,209.05 L183.50,209.00 L184.00,208.95 L184.50,208.90 L185.00,208.86 L185.50,208.82 L186.00,208.78 L186.50,208.74 L187.00,208.71 L187.50,208.68 L188.00,208.65 L188.50,208.63 L189.00,208.61 L189.50,208.59 L190.00,208.57 L190.50,208.55 L191.00,208.54 L191.50,208.53 L192.00,208.52 L192.50,208.52 L193.00,208.52 L193.50,208.52 L194.00,208.52 L194.50,208.52 L195.00,208.53 L195.50,208.54 L196.00,208.55 L196.50,208.56 L197.00,208.58 L197.50,208.59 L198.00,208.61 L198.50,208.63 L199.00,208.65 L199.50,208.68 L200.00,208.70 L200.50,208.73 L201.00,208.76 L201.50,208.79 L202.00,208.82 L202.50,208.85 L203.00,208.89 L203.50,208.92 L204.00,208.96 L204.50,209.00 L205.00,209.04 L205.50,209.08 L206.00,209.12 L206.50,209.16 L207.00,209.21 L207.50,209.25 L208.00,209.30 L208.50,209.34 L209.00,209.39 L209.50,209.44 L210.00,209.49 L210.50,209.54 L211.00,209.59 L211.50,209.64 L212.00,209.69 L212.50,209.74 L213.00,209.80 L213.50,209.85 L214.00,209.90 L214.50,209.96 L215.00,210.01 L215.50,210.06 L216.00,210.12 L216.50,210.17 L217.00,210.23 L217.50,210.28 L218.00,210.34 L218.50,210.39 L219.00,210.45 L219.50,210.50 L220.00,210.56 L220.50,210.61 L221.00,210.67 L221.50,210.72 L222.00,210.78 L222.50,210.83 L223.00,210.89 L223.50,210.95 L224.00,211.00 L224.50,211.06 L225.00,211.12 L225.50,211.17 L226.00,211.23 L226.50,211.29 L227.00,211.35 L227.50,211.40 L228.00,211.46 L228.50,211.52 L229.00,211.58 L229.50,211.63 L230.00,211.69 L230.50,211.75 L231.00,211.81 L231.50,211.87 L232.00,211.92 L232.50,211.98 L233.00,212.04 L233.50,212.10 L234.00,212.16 L234.50,212.22 L235.00,212.28 L235.50,212.34 L236.00,212.40 L236.50,212.46 L237.00,212.51 L237.50,212.57 L238.00,212.63 L238.50,212.69 L239.00,212.75 L239.50,212.81 L240.00,212.87 L240.50,212.93 L241.00,212.99 L241.50,213.05 L242.00,213.11 L242.50,213.17 L243.00,213.23 L243.50,213.30 L244.00,213.36 L244.50,213.42 L245.00,213.48 L245.50,213.54 L246.00,213.60 L246.50,213.66 L247.00,213.72 L247.50,213.78 L248.00,213.84 L248.50,213.90 L249.00,213.97 L249.50,214.03 L250.00,214.09 L250.50,214.15 L251.00,214.21 L251.50,214.27 L252.00,214.33 L252.50,214.40 L253.00,214.46 L253.50,214.52 L254.00,214.58 L254.50,214.64 L255.00,214.70 L255.50,214.77 L256.00,214.83 L256.50,214.89 L257.00,214.95 L257.50,215.01 L258.00,215.08 L258.50,215.14 L259.00,215.20 L259.50,215.26 L260.00,215.32 L260.50,215.39 L261.00,215.45 L261.50,215.51 L262.00,215.57 L262.50,215.63 L263.00,215.70 L263.50,215.76 L264.00,215.82 L264.50,215.88 L265.00,215.94 L265.50,216.01 L266.00,216.07 L266.50,216.13 L267.00,216.19 L267.50,216.26 L268.00,216.32 L268.50,216.38 L269.00,216.44 L269.50,216.50 L270.00,216.57 L270.50,216.63 L271.00,216.69 L271.50,216.75 L272.00,216.81 L272.50,216.88 L273.00,216.94 L273.50,217.00" stroke="#1a1aff" stroke-width="1.3"/>
<path d="M45.50,217.00 L45.70,216.92 L45.90,216.84 L46.10,216.75 L46.30,216.67 L46.50,216.59 L46.70,216.51 L46.90,216.44 L47.10,216.36 L47.30,216.28 L47.50,216.21 L47.70,216.14 L47.90,216.07 L48.10,216.00 L48.30,215.93 L48.50,215.87 L48.70,215.80 L48.90,215.73 L49.10,215.67 L49.30,215.60 L49.50,215.53 L49.70,215.47 L49.90,215.40 L50.10,215.34 L50.15,215.32 M54.95,213.75 L55.15,213.69 L55.35,213.63 L55.55,213.56 L55.75,213.50 L55.95,213.43 L56.15,213.37 L56.35,213.30 L56.55,213.24 L56.75,213.18 L56.95,213.11 L57.15,213.05 L57.35,212.98 L57.55,212.92 L57.75,212.86 L57.95,212.79 L58.15,212.73 L58.35,212.66 L58.55,212.60 L58.75,212.53 L58.95,212.47 L59.15,212.40 L59.35,212.34 L59.55,212.28 L59.65,212.24 M64.45,210.71 L64.65,210.64 L64.85,210.58 L65.05,210.52 L65.25,210.46 L65.45,210.40 L65.65,210.34 L65.85,210.27 L66.05,210.21 L66.25,210.15 L66.45,210.09 L66.65,210.03 L66.85,209.97 L67.05,209.91 L67.25,209.86 L67.45,209.80 L67.65,209.74 L67.85,209.68 L68.05,209.62 L68.25,209.56 L68.45,209.50 L68.65,209.45 L68.85,209.39 L69.05,209.33 L69.15,209.30 M74.00,207.90 L74.20,207.85 L74.40,207.79 L74.60,207.73 L74.80,207.67 L75.00,207.62 L75.20,207.56 L75.40,207.50 L75.60,207.44 L75.80,207.39 L76.00,207.33 L76.20,207.27 L76.40,207.21 L76.60,207.16 L76.80,207.10 L77.00,207.04 L77.20,206.99 L77.40,206.93 L77.60,206.87 L77.80,206.81 L78.00,206.76 L78.20,206.70 L78.40,206.64 L78.60,206.58 L78.75,206.54 M83.60,205.16 L83.80,205.10 L84.00,205.04 L84.20,204.99 L84.40,204.93 L84.60,204.87 L84.80,204.81 L85.00,204.76 L85.20,204.70 L85.40,204.64 L85.60,204.59 L85.80,204.53 L86.00,204.47 L86.20,204.41 L86.40,204.36 L86.60,204.30 L86.80,204.24 L87.00,204.18 L87.20,204.13 L87.40,204.07 L87.60,204.01 L87.80,203.95 L88.00,203.89 L88.20,203.82 L88.35,203.78 M93.15,202.17 L93.35,202.10 L93.55,202.03 L93.75,201.95 L93.95,201.88 L94.15,201.81 L94.35,201.74 L94.55,201.66 L94.75,201.59 L94.95,201.52 L95.15,201.44 L95.35,201.37 L95.55,201.29 L95.75,201.22 L95.95,201.14 L96.15,201.07 L96.35,200.99 L96.55,200.90 L96.75,200.82 L96.95,200.73 L97.15,200.64 L97.35,200.55 L97.55,200.46 L97.70,200.39 M102.10,197.91 L102.30,197.78 L102.50,197.66 L102.70,197.53 L102.90,197.40 L103.10,197.27 L103.30,197.14 L103.50,197.00 L103.70,196.87 L103.90,196.74 L104.10,196.61 L104.30,196.47 L104.50,196.34 L104.70,196.20 L104.90,196.07 L105.10,195.93 L105.30,195.80 L105.50,195.66 L105.70,195.52 L105.90,195.38 L106.10,195.23 L106.20,195.16 M110.10,191.97 L110.30,191.78 L110.50,191.59 L110.70,191.40 L110.90,191.20 L111.10,191.01 L111.30,190.81 L111.50,190.61 L111.70,190.40 L111.90,190.19 L112.10,189.98 L112.30,189.77 L112.50,189.56 L112.70,189.34 L112.90,189.13 L113.10,188.91 L113.30,188.69 L113.50,188.46 L113.55,188.41 M116.85,184.53 L117.05,184.28 L117.25,184.03 L117.45,183.79 L117.65,183.54 L117.85,183.29 L118.05,183.04 L118.25,182.78 L118.45,182.53 L118.65,182.27 L118.85,182.01 L119.05,181.75 L119.25,181.49 L119.45,181.22 L119.65,180.95 L119.85,180.68 M122.85,176.60 L123.05,176.33 L123.25,176.06 L123.45,175.80 L123.65,175.54 L123.85,175.28 L124.05,175.02 L124.25,174.76 L124.45,174.51 L124.65,174.26 L124.85,174.02 L125.05,173.79 L125.25,173.56 L125.45,173.33 L125.65,173.11 L125.85,172.89 L125.95,172.78 M129.75,169.49 L129.95,169.40 L130.15,169.33 L130.35,169.27 L130.55,169.21 L130.75,169.15 L130.95,169.10 L131.15,169.06 L131.35,169.01 L131.55,168.97 L131.75,168.93 L131.95,168.91 L132.15,168.91 L132.35,168.91 L132.55,168.94 L132.75,168.98 L132.95,169.04 L133.15,169.12 L133.35,169.22 L133.55,169.35 L133.75,169.50 L133.95,169.67 L134.15,169.88 L134.20,169.94 M136.55,174.48 L136.75,175.01 L136.95,175.55 L137.15,176.12 L137.35,176.70 L137.55,177.30 L137.75,177.91 L137.95,178.54 L138.10,179.02 M139.55,183.83 L139.75,184.50 L139.95,185.17 L140.15,185.83 L140.35,186.49 L140.55,187.14 L140.75,187.79 L140.95,188.42 M142.60,193.45 L142.80,194.06 L143.00,194.66 L143.20,195.26 L143.40,195.87 L143.60,196.47 L143.80,197.08 L144.00,197.69 L144.10,197.99 M145.65,202.91 L145.85,203.56 L146.05,204.22 L146.25,204.87 L146.45,205.52 L146.65,206.16 L146.85,206.80 L147.05,207.42 M148.95,212.23 L149.15,212.59 L149.35,212.93 L149.55,213.24 L149.75,213.54 L149.95,213.81 L150.15,214.07 L150.35,214.31 L150.55,214.54 L150.75,214.75 L150.95,214.95 L151.15,215.14 L151.35,215.33 L151.55,215.52 L151.75,215.69 L151.95,215.87 L152.05,215.95 M156.55,218.25 L156.75,218.29 L156.95,218.33 L157.15,218.37 L157.35,218.41 L157.55,218.45 L157.75,218.49 L157.95,218.52 L158.15,218.55 L158.35,218.58 L158.55,218.61 L158.75,218.63 L158.95,218.64 L159.15,218.65 L159.35,218.66 L159.55,218.66 L159.75,218.66 L159.95,218.65 L160.15,218.64 L160.35,218.62 L160.55,218.59 L160.75,218.55 L160.95,218.51 L161.15,218.46 L161.35,218.41 L161.45,218.39 M166.30,216.82 L166.50,216.74 L166.70,216.65 L166.90,216.57 L167.10,216.49 L167.30,216.40 L167.50,216.31 L167.70,216.23 L167.90,216.14 L168.10,216.05 L168.30,215.96 L168.50,215.87 L168.70,215.78 L168.90,215.69 L169.10,215.60 L169.30,215.51 L169.50,215.41 L169.70,215.32 L169.90,215.22 L170.10,215.13 L170.30,215.03 L170.50,214.93 L170.70,214.83 L170.85,214.76 M175.25,212.14 L175.45,212.00 L175.65,211.85 L175.85,211.70 L176.05,211.55 L176.25,211.39 L176.45,211.24 L176.65,211.08 L176.85,210.92 L177.05,210.76 L177.25,210.60 L177.45,210.43 L177.65,210.27 L177.85,210.10 L178.05,209.93 L178.25,209.76 L178.45,209.59 L178.65,209.42 L178.85,209.24 L179.05,209.07 L179.10,209.02 M182.80,205.55 L183.00,205.34 L183.20,205.12 L183.40,204.90 L183.60,204.68 L183.80,204.44 L184.00,204.21 L184.20,203.97 L184.40,203.72 L184.60,203.46 L184.80,203.20 L185.00,202.94 L185.20,202.66 L185.40,202.39 L185.60,202.11 L185.80,201.83 L185.90,201.69 M188.85,197.45 L189.05,197.17 L189.25,196.88 L189.45,196.60 L189.65,196.31 L189.85,196.03 L190.05,195.75 L190.25,195.47 L190.45,195.19 L190.65,194.91 L190.85,194.64 L191.05,194.36 L191.25,194.08 L191.45,193.80 L191.65,193.53 L191.70,193.46 M194.70,189.33 L194.90,189.06 L195.10,188.78 L195.30,188.51 L195.50,188.24 L195.70,187.96 L195.90,187.69 L196.10,187.42 L196.30,187.16 L196.50,186.89 L196.70,186.63 L196.90,186.37 L197.10,186.11 L197.30,185.86 L197.50,185.60 L197.70,185.35 M201.10,181.50 L201.30,181.31 L201.50,181.14 L201.70,180.97 L201.90,180.81 L202.10,180.66 L202.30,180.52 L202.50,180.38 L202.70,180.25 L202.90,180.13 L203.10,180.02 L203.30,179.91 L203.50,179.80 L203.70,179.70 L203.90,179.60 L204.10,179.50 L204.30,179.41 L204.50,179.32 L204.70,179.23 L204.90,179.14 L205.10,179.06 L205.25,178.99 M210.20,177.98 L210.40,177.98 L210.60,177.99 L210.80,178.00 L211.00,178.02 L211.20,178.04 L211.40,178.06 L211.60,178.09 L211.80,178.13 L212.00,178.17 L212.20,178.21 L212.40,178.26 L212.60,178.31 L212.80,178.38 L213.00,178.44 L213.20,178.52 L213.40,178.60 L213.60,178.68 L213.80,178.78 L214.00,178.88 L214.20,178.98 L214.40,179.10 L214.60,179.22 L214.80,179.34 L214.90,179.40 M219.05,182.36 L219.25,182.52 L219.45,182.69 L219.65,182.86 L219.85,183.03 L220.05,183.20 L220.25,183.37 L220.45,183.54 L220.65,183.71 L220.85,183.89 L221.05,184.06 L221.25,184.23 L221.45,184.40 L221.65,184.57 L221.85,184.75 L222.05,184.92 L222.25,185.09 L222.45,185.26 L222.65,185.44 L222.80,185.57 M226.60,188.88 L226.80,189.05 L227.00,189.23 L227.20,189.40 L227.40,189.58 L227.60,189.76 L227.80,189.93 L228.00,190.11 L228.20,190.29 L228.40,190.47 L228.60,190.65 L228.80,190.83 L229.00,191.01 L229.20,191.19 L229.40,191.37 L229.60,191.56 L229.80,191.74 L230.00,191.92 L230.20,192.11 L230.30,192.20 M234.00,195.65 L234.20,195.84 L234.40,196.02 L234.60,196.20 L234.80,196.38 L235.00,196.56 L235.20,196.74 L235.40,196.92 L235.60,197.10 L235.80,197.28 L236.00,197.45 L236.20,197.63 L236.40,197.80 L236.60,197.97 L236.80,198.14 L237.00,198.31 L237.20,198.48 L237.40,198.64 L237.60,198.80 L237.75,198.92 M241.85,201.88 L242.05,202.01 L242.25,202.13 L242.45,202.26 L242.65,202.39 L242.85,202.51 L243.05,202.64 L243.25,202.76 L243.45,202.88 L243.65,203.00 L243.85,203.12 L244.05,203.24 L244.25,203.36 L244.45,203.47 L244.65,203.59 L244.85,203.71 L245.05,203.82 L245.25,203.93 L245.45,204.05 L245.65,204.16 L245.85,204.27 L246.05,204.38 L246.10,204.41 M250.60,206.81 L250.80,206.91 L251.00,207.02 L251.20,207.12 L251.40,207.22 L251.60,207.33 L251.80,207.43 L252.00,207.53 L252.20,207.63 L252.40,207.74 L252.60,207.84 L252.80,207.94 L253.00,208.04 L253.20,208.14 L253.40,208.24 L253.60,208.34 L253.80,208.44 L254.00,208.54 L254.20,208.64 L254.40,208.74 L254.60,208.84 L254.80,208.94 L255.00,209.03 M259.60,211.20 L259.80,211.29 L260.00,211.38 L260.20,211.47 L260.40,211.56 L260.60,211.64 L260.80,211.73 L261.00,211.82 L261.20,211.91 L261.40,212.00 L261.60,212.08 L261.80,212.17 L262.00,212.26 L262.20,212.35 L262.40,212.43 L262.60,212.52 L262.80,212.61 L263.00,212.70 L263.20,212.78 L263.40,212.87 L263.60,212.96 L263.80,213.04 L264.00,213.13 L264.15,213.19 M268.80,215.15 L269.00,215.23 L269.20,215.32 L269.40,215.40 L269.60,215.48 L269.80,215.56 L270.00,215.64 L270.20,215.72 L270.40,215.80 L270.60,215.88 L270.80,215.96 L271.00,216.04 L271.20,216.12 L271.40,216.19 L271.60,216.27 L271.80,216.35 L272.00,216.43 L272.20,216.51 L272.40,216.58 L272.60,216.66 L272.80,216.74 L273.00,216.81 L273.20,216.89 L273.40,216.96 L273.45,216.98" stroke="#000" stroke-width="1.9"/>
</g>
<text transform="translate(45.50,281.40) scale(0.97,1)" text-anchor="middle">0</text>
<text transform="translate(108.83,281.40) scale(0.97,1)" text-anchor="middle">50</text>
<text transform="translate(172.17,281.40) scale(0.97,1)" text-anchor="middle">100</text>
<text transform="translate(235.50,281.40) scale(0.97,1)" text-anchor="middle">150</text>
<text transform="translate(43.00,272.50) scale(0.97,1)" text-anchor="end">−1</text>
<text transform="translate(43.00,247.25) scale(0.97,1)" text-anchor="end">−0.5</text>
<text transform="translate(43.00,222.00) scale(0.97,1)" text-anchor="end">0</text>
<text transform="translate(43.00,196.75) scale(0.97,1)" text-anchor="end">0.5</text>
<text transform="translate(43.00,171.50) scale(0.97,1)" text-anchor="end">1</text>
</g>
<g id="panel4">
<clipPath id="clip4"><rect x="317.5" y="165.5" width="229.0" height="103.0"/></clipPath>
<rect x="318.0" y="166.3" width="227.90" height="101.70" fill="none" stroke="#9a9a9a" stroke-width="1.4"/>
<path d="M381.56,268.0v-2.5 M381.56,166.3v2.5 M444.61,268.0v-2.5 M444.61,166.3v2.5 M507.67,268.0v-2.5 M507.67,166.3v2.5 M318.0,242.25h2.5 M545.9,242.25h-2.5 M318.0,217.00h2.5 M545.9,217.00h-2.5 M318.0,191.75h2.5 M545.9,191.75h-2.5" stroke="#707070" stroke-width="1" fill="none"/>
<g clip-path="url(#clip4)" fill="none" stroke-linejoin="round">
<path d="M318.50,217.00 L318.70,217.03 L318.90,217.07 L319.10,217.10 L319.30,217.14 L319.50,217.17 L319.70,217.21 L319.90,217.24 L320.10,217.28 L320.30,217.31 L320.50,217.35 L320.70,217.38 L320.90,217.41 L321.10,217.45 L321.30,217.48 L321.50,217.52 L321.70,217.55 L321.90,217.59 L322.10,217.62 L322.30,217.65 L322.50,217.69 L322.70,217.72 L322.90,217.76 L323.10,217.79 M327.80,218.59 L328.00,218.63 L328.20,218.66 L328.40,218.70 L328.60,218.73 L328.80,218.76 L329.00,218.80 L329.20,218.83 L329.40,218.87 L329.60,218.90 L329.80,218.93 L330.00,218.97 L330.20,219.00 L330.40,219.04 L330.60,219.07 L330.80,219.10 L331.00,219.14 L331.20,219.17 L331.40,219.21 L331.60,219.24 L331.80,219.27 L332.00,219.31 L332.20,219.34 L332.40,219.38 L332.60,219.41 L332.80,219.44 L332.95,219.47 M337.65,220.26 L337.85,220.29 L338.05,220.32 L338.25,220.36 L338.45,220.39 L338.65,220.42 L338.85,220.46 L339.05,220.49 L339.25,220.52 L339.45,220.55 L339.65,220.59 L339.85,220.62 L340.05,220.65 L340.25,220.68 L340.45,220.72 L340.65,220.75 L340.85,220.78 L341.05,220.81 L341.25,220.85 L341.45,220.88 L341.65,220.91 L341.85,220.94 L342.05,220.98 L342.25,221.01 L342.45,221.04 L342.65,221.07 L342.80,221.10 M347.50,221.77 L347.70,221.80 L347.90,221.83 L348.10,221.85 L348.30,221.88 L348.50,221.91 L348.70,221.93 L348.90,221.96 L349.10,221.99 L349.30,222.01 L349.50,222.04 L349.70,222.06 L349.90,222.09 L350.10,222.12 L350.30,222.14 L350.50,222.17 L350.70,222.19 L350.90,222.22 L351.10,222.24 L351.30,222.27 L351.50,222.29 L351.70,222.32 L351.90,222.35 L352.10,222.37 L352.30,222.40 L352.50,222.42 L352.70,222.45 M357.40,223.04 L357.60,223.06 L357.80,223.09 L358.00,223.11 L358.20,223.14 L358.40,223.16 L358.60,223.19 L358.80,223.21 L359.00,223.24 L359.20,223.26 L359.40,223.29 L359.60,223.31 L359.80,223.33 L360.00,223.36 L360.20,223.38 L360.40,223.41 L360.60,223.43 L360.80,223.45 L361.00,223.48 L361.20,223.50 L361.40,223.53 L361.60,223.55 L361.80,223.57 L362.00,223.60 L362.20,223.62 L362.40,223.64 L362.60,223.67 L362.65,223.67 M367.35,224.21 L367.55,224.23 L367.75,224.25 L367.95,224.27 L368.15,224.29 L368.35,224.31 L368.55,224.33 L368.75,224.36 L368.95,224.38 L369.15,224.40 L369.35,224.42 L369.55,224.44 L369.75,224.46 L369.95,224.48 L370.15,224.50 L370.35,224.52 L370.55,224.54 L370.75,224.56 L370.95,224.58 L371.15,224.60 L371.35,224.62 L371.55,224.64 L371.75,224.66 L371.95,224.68 L372.15,224.70 L372.35,224.72 L372.55,224.73 M377.30,225.13 L377.50,225.14 L377.70,225.16 L377.90,225.17 L378.10,225.19 L378.30,225.20 L378.50,225.21 L378.70,225.23 L378.90,225.24 L379.10,225.25 L379.30,225.26 L379.50,225.28 L379.70,225.29 L379.90,225.30 L380.10,225.31 L380.30,225.32 L380.50,225.33 L380.70,225.35 L380.90,225.36 L381.10,225.37 L381.30,225.38 L381.50,225.39 L381.70,225.40 L381.90,225.41 L382.10,225.42 L382.30,225.43 L382.50,225.44 L382.55,225.45 M387.25,225.68 L387.45,225.68 L387.65,225.69 L387.85,225.70 L388.05,225.71 L388.25,225.72 L388.45,225.73 L388.65,225.74 L388.85,225.75 L389.05,225.76 L389.25,225.76 L389.45,225.77 L389.65,225.78 L389.85,225.79 L390.05,225.80 L390.25,225.81 L390.45,225.81 L390.65,225.82 L390.85,225.83 L391.05,225.84 L391.25,225.85 L391.45,225.86 L391.65,225.86 L391.85,225.87 L392.05,225.88 L392.25,225.89 L392.45,225.90 L392.50,225.90 M397.25,226.08 L397.45,226.09 L397.65,226.09 L397.85,226.10 L398.05,226.11 L398.25,226.11 L398.45,226.12 L398.65,226.13 L398.85,226.13 L399.05,226.14 L399.25,226.15 L399.45,226.15 L399.65,226.16 L399.85,226.17 L400.05,226.17 L400.25,226.18 L400.45,226.18 L400.65,226.19 L400.85,226.20 L401.05,226.20 L401.25,226.21 L401.45,226.21 L401.65,226.22 L401.85,226.22 L402.05,226.23 L402.25,226.24 L402.45,226.24 L402.50,226.24 M407.25,226.36 L407.45,226.36 L407.65,226.37 L407.85,226.37 L408.05,226.37 L408.25,226.38 L408.45,226.38 L408.65,226.38 L408.85,226.39 L409.05,226.39 L409.25,226.39 L409.45,226.39 L409.65,226.40 L409.85,226.40 L410.05,226.40 L410.25,226.40 L410.45,226.41 L410.65,226.41 L410.85,226.41 L411.05,226.41 L411.25,226.41 L411.45,226.41 L411.65,226.42 L411.85,226.42 L412.05,226.42 L412.25,226.42 L412.45,226.42 L412.50,226.42 M417.25,226.37 L417.45,226.37 L417.65,226.36 L417.85,226.36 L418.05,226.35 L418.25,226.35 L418.45,226.34 L418.65,226.34 L418.85,226.33 L419.05,226.32 L419.25,226.32 L419.45,226.31 L419.65,226.30 L419.85,226.29 L420.05,226.29 L420.25,226.28 L420.45,226.27 L420.65,226.26 L420.85,226.25 L421.05,226.24 L421.25,226.23 L421.45,226.22 L421.65,226.21 L421.85,226.20 L422.05,226.19 L422.25,226.18 L422.45,226.17 L422.50,226.17 M427.20,225.91 L427.40,225.90 L427.60,225.89 L427.80,225.88 L428.00,225.87 L428.20,225.85 L428.40,225.84 L428.60,225.83 L428.80,225.82 L429.00,225.81 L429.20,225.80 L429.40,225.79 L429.60,225.78 L429.80,225.76 L430.00,225.75 L430.20,225.74 L430.40,225.73 L430.60,225.72 L430.80,225.71 L431.00,225.70 L431.20,225.69 L431.40,225.67 L431.60,225.66 L431.80,225.65 L432.00,225.64 L432.20,225.63 L432.40,225.62 L432.45,225.62 M437.20,225.35 L437.40,225.34 L437.60,225.32 L437.80,225.31 L438.00,225.30 L438.20,225.29 L438.40,225.28 L438.60,225.27 L438.80,225.26 L439.00,225.24 L439.20,225.23 L439.40,225.22 L439.60,225.21 L439.80,225.20 L440.00,225.19 L440.20,225.18 L440.40,225.16 L440.60,225.15 L440.80,225.14 L441.00,225.13 L441.20,225.12 L441.40,225.11 L441.60,225.09 L441.80,225.08 L442.00,225.07 L442.20,225.06 L442.40,225.05 L442.45,225.05 M447.15,225.00 L447.35,225.03 L447.55,225.06 L447.75,225.09 L447.95,225.12 L448.15,225.16 L448.35,225.20 L448.55,225.24 L448.75,225.28 L448.95,225.32 L449.15,225.36 L449.35,225.41 L449.55,225.45 L449.75,225.50 L449.95,225.54 L450.15,225.59 L450.35,225.64 L450.55,225.70 L450.75,225.77 L450.95,225.85 L451.15,225.95 L451.35,226.05 L451.55,226.17 L451.75,226.29 L451.95,226.43 L452.10,226.54 M455.15,230.14 L455.35,230.48 L455.55,230.83 L455.75,231.20 L455.95,231.59 L456.15,231.99 L456.35,232.40 L456.55,232.83 L456.75,233.27 L456.95,233.72 L457.15,234.19 L457.35,234.68 L457.40,234.80 M459.15,239.34 L459.35,239.88 L459.55,240.42 L459.75,240.97 L459.95,241.52 L460.15,242.07 L460.35,242.62 L460.55,243.18 L460.75,243.74 L460.90,244.17 M462.40,248.66 L462.60,249.27 L462.80,249.88 L463.00,250.48 L463.20,251.08 L463.40,251.67 L463.60,252.25 L463.80,252.82 L464.00,253.38 L464.05,253.51 M466.15,257.89 L466.35,258.22 L466.55,258.54 L466.75,258.85 L466.95,259.14 L467.15,259.42 L467.35,259.67 L467.55,259.91 L467.75,260.12 L467.95,260.30 L468.15,260.46 L468.35,260.59 L468.55,260.69 L468.75,260.76 L468.95,260.80 L469.15,260.80 L469.35,260.78 L469.55,260.76 L469.75,260.72 L469.95,260.67 M473.55,257.72 L473.75,257.50 L473.95,257.28 L474.15,257.06 L474.35,256.84 L474.55,256.62 L474.75,256.40 L474.95,256.18 L475.15,255.96 L475.35,255.74 L475.55,255.53 L475.75,255.31 L475.95,255.09 L476.15,254.87 L476.35,254.65 L476.55,254.44 L476.75,254.22 L476.95,254.00 L477.05,253.90 M480.30,250.37 L480.50,250.16 L480.70,249.94 L480.90,249.73 L481.10,249.51 L481.30,249.30 L481.50,249.08 L481.70,248.87 L481.90,248.65 L482.10,248.44 L482.30,248.23 L482.50,248.01 L482.70,247.80 L482.90,247.59 L483.10,247.38 L483.30,247.18 L483.50,246.98 L483.70,246.78 L483.90,246.58 M487.50,243.42 L487.70,243.26 L487.90,243.10 L488.10,242.93 L488.30,242.77 L488.50,242.61 L488.70,242.44 L488.90,242.28 L489.10,242.12 L489.30,241.95 L489.50,241.79 L489.70,241.63 L489.90,241.46 L490.10,241.30 L490.30,241.14 L490.50,240.97 L490.70,240.81 L490.90,240.65 L491.10,240.49 L491.30,240.33 L491.50,240.17 L491.60,240.09 M495.40,237.26 L495.60,237.12 L495.80,236.99 L496.00,236.86 L496.20,236.74 L496.40,236.61 L496.60,236.49 L496.80,236.37 L497.00,236.25 L497.20,236.13 L497.40,236.02 L497.60,235.91 L497.80,235.81 L498.00,235.70 L498.20,235.60 L498.40,235.50 L498.60,235.40 L498.80,235.31 L499.00,235.21 L499.20,235.11 L499.40,235.02 L499.60,234.92 L499.80,234.83 L500.00,234.73 L500.05,234.71 M504.40,232.75 L504.60,232.67 L504.80,232.58 L505.00,232.50 L505.20,232.41 L505.40,232.32 L505.60,232.24 L505.80,232.15 L506.00,232.07 L506.20,231.99 L506.40,231.90 L506.60,231.82 L506.80,231.73 L507.00,231.65 L507.20,231.57 L507.40,231.48 L507.60,231.40 L507.80,231.32 L508.00,231.24 L508.20,231.15 L508.40,231.07 L508.60,230.99 L508.80,230.91 L509.00,230.83 L509.20,230.75 L509.30,230.70 M513.75,228.90 L513.95,228.82 L514.15,228.73 L514.35,228.65 L514.55,228.57 L514.75,228.49 L514.95,228.41 L515.15,228.33 L515.35,228.25 L515.55,228.17 L515.75,228.08 L515.95,228.00 L516.15,227.92 L516.35,227.84 L516.55,227.76 L516.75,227.68 L516.95,227.60 L517.15,227.52 L517.35,227.44 L517.55,227.36 L517.75,227.28 L517.95,227.20 L518.15,227.12 L518.35,227.04 L518.55,226.96 L518.65,226.92 M523.10,225.23 L523.30,225.16 L523.50,225.09 L523.70,225.01 L523.90,224.94 L524.10,224.87 L524.30,224.79 L524.50,224.72 L524.70,224.65 L524.90,224.58 L525.10,224.51 L525.30,224.43 L525.50,224.36 L525.70,224.29 L525.90,224.22 L526.10,224.15 L526.30,224.08 L526.50,224.00 L526.70,223.93 L526.90,223.86 L527.10,223.79 L527.30,223.72 L527.50,223.65 L527.70,223.58 L527.90,223.50 L528.05,223.45 M532.60,221.81 L532.80,221.74 L533.00,221.67 L533.20,221.60 L533.40,221.52 L533.60,221.45 L533.80,221.37 L534.00,221.30 L534.20,221.23 L534.40,221.15 L534.60,221.08 L534.80,221.00 L535.00,220.93 L535.20,220.86 L535.40,220.78 L535.60,220.71 L535.80,220.63 L536.00,220.56 L536.20,220.48 L536.40,220.41 L536.60,220.34 L536.80,220.26 L537.00,220.19 L537.20,220.11 L537.40,220.04 L537.55,219.98 M542.00,218.32 L542.20,218.25 L542.40,218.17 L542.60,218.10 L542.80,218.02 L543.00,217.95 L543.20,217.87 L543.40,217.80 L543.60,217.72 L543.80,217.64 L544.00,217.57 L544.20,217.49 L544.40,217.42 L544.60,217.34 L544.80,217.27 L545.00,217.19 L545.20,217.11 L545.40,217.04 L545.45,217.02" stroke="#ff1414" stroke-width="1.15"/>
<path d="M318.50,217.00 L319.00,216.98 L319.50,216.97 L320.00,216.95 L320.50,216.94 L321.00,216.92 L321.50,216.91 L322.00,216.90 L322.50,216.88 L323.00,216.87 L323.50,216.85 L324.00,216.84 L324.50,216.83 L325.00,216.81 L325.50,216.80 L326.00,216.79 L326.50,216.77 L327.00,216.76 L327.50,216.75 L328.00,216.74 L328.50,216.73 L329.00,216.71 L329.50,216.70 L330.00,216.69 L330.50,216.68 L331.00,216.67 L331.50,216.66 L332.00,216.65 L332.50,216.64 L333.00,216.63 L333.50,216.62 L334.00,216.62 L334.50,216.61 L335.00,216.60 L335.50,216.59 L336.00,216.58 L336.50,216.58 L337.00,216.57 L337.50,216.56 L338.00,216.56 L338.50,216.55 L339.00,216.55 L339.50,216.54 L340.00,216.54 L340.50,216.53 L341.00,216.53 L341.50,216.53 L342.00,216.52 L342.50,216.52 L343.00,216.52 L343.50,216.51 L344.00,216.51 L344.50,216.51 L345.00,216.51 L345.50,216.51 L346.00,216.51 L346.50,216.51 L347.00,216.51 L347.50,216.51 L348.00,216.51 L348.50,216.51 L349.00,216.52 L349.50,216.52 L350.00,216.52 L350.50,216.53 L351.00,216.53 L351.50,216.54 L352.00,216.54 L352.50,216.55 L353.00,216.55 L353.50,216.56 L354.00,216.56 L354.50,216.57 L355.00,216.58 L355.50,216.59 L356.00,216.60 L356.50,216.61 L357.00,216.61 L357.50,216.63 L358.00,216.64 L358.50,216.65 L359.00,216.66 L359.50,216.67 L360.00,216.68 L360.50,216.70 L361.00,216.71 L361.50,216.73 L362.00,216.74 L362.50,216.76 L363.00,216.77 L363.50,216.79 L364.00,216.80 L364.50,216.82 L365.00,216.84 L365.50,216.86 L366.00,216.88 L366.50,216.90 L367.00,216.92 L367.50,216.94 L368.00,216.96 L368.50,216.98 L369.00,217.01 L369.50,217.03 L370.00,217.05 L370.50,217.08 L371.00,217.10 L371.50,217.13 L372.00,217.16 L372.50,217.18 L373.00,217.21 L373.50,217.24 L374.00,217.27 L374.50,217.30 L375.00,217.33 L375.50,217.36 L376.00,217.39 L376.50,217.42 L377.00,217.46 L377.50,217.49 L378.00,217.53 L378.50,217.56 L379.00,217.60 L379.50,217.63 L380.00,217.67 L380.50,217.71 L381.00,217.75 L381.50,217.79 L382.00,217.83 L382.50,217.87 L383.00,217.91 L383.50,217.95 L384.00,217.99 L384.50,218.03 L385.00,218.07 L385.50,218.12 L386.00,218.16 L386.50,218.21 L387.00,218.25 L387.50,218.29 L388.00,218.34 L388.50,218.38 L389.00,218.43 L389.50,218.47 L390.00,218.52 L390.50,218.57 L391.00,218.61 L391.50,218.66 L392.00,218.70 L392.50,218.75 L393.00,218.79 L393.50,218.84 L394.00,218.89 L394.50,218.93 L395.00,218.98 L395.50,219.02 L396.00,219.07 L396.50,219.11 L397.00,219.16 L397.50,219.20 L398.00,219.24 L398.50,219.29 L399.00,219.33 L399.50,219.37 L400.00,219.41 L400.50,219.46 L401.00,219.50 L401.50,219.54 L402.00,219.58 L402.50,219.62 L403.00,219.66 L403.50,219.70 L404.00,219.73 L404.50,219.77 L405.00,219.81 L405.50,219.84 L406.00,219.88 L406.50,219.91 L407.00,219.94 L407.50,219.98 L408.00,220.01 L408.50,220.04 L409.00,220.07 L409.50,220.10 L410.00,220.12 L410.50,220.15 L411.00,220.18 L411.50,220.20 L412.00,220.23 L412.50,220.25 L413.00,220.27 L413.50,220.29 L414.00,220.31 L414.50,220.33 L415.00,220.34 L415.50,220.36 L416.00,220.38 L416.50,220.39 L417.00,220.40 L417.50,220.41 L418.00,220.42 L418.50,220.43 L419.00,220.44 L419.50,220.44 L420.00,220.45 L420.50,220.45 L421.00,220.45 L421.50,220.45 L422.00,220.45 L422.50,220.44 L423.00,220.44 L423.50,220.43 L424.00,220.42 L424.50,220.42 L425.00,220.40 L425.50,220.39 L426.00,220.38 L426.50,220.36 L427.00,220.34 L427.50,220.32 L428.00,220.30 L428.50,220.28 L429.00,220.25 L429.50,220.23 L430.00,220.20 L430.50,220.17 L431.00,220.14 L431.50,220.11 L432.00,220.07 L432.50,220.03 L433.00,220.00 L433.50,219.96 L434.00,219.92 L434.50,219.87 L435.00,219.83 L435.50,219.79 L436.00,219.74 L436.50,219.69 L437.00,219.64 L437.50,219.59 L438.00,219.54 L438.50,219.49 L439.00,219.44 L439.50,219.38 L440.00,219.32 L440.50,219.27 L441.00,219.21 L441.50,219.15 L442.00,219.09 L442.50,219.03 L443.00,218.97 L443.50,218.90 L444.00,218.84 L444.50,218.78 L445.00,218.71 L445.50,218.64 L446.00,218.58 L446.50,218.51 L447.00,218.44 L447.50,218.37 L448.00,218.30 L448.50,218.23 L449.00,218.16 L449.50,218.09 L450.00,218.02 L450.50,217.95 L451.00,217.87 L451.50,217.80 L452.00,217.73 L452.50,217.65 L453.00,217.58 L453.50,217.50 L454.00,217.43 L454.50,217.35 L455.00,217.28 L455.50,217.20 L456.00,217.12 L456.50,217.05 L457.00,216.97 L457.50,216.90 L458.00,216.82 L458.50,216.74 L459.00,216.67 L459.50,216.59 L460.00,216.51 L460.50,216.44 L461.00,216.36 L461.50,216.28 L462.00,216.21 L462.50,216.13 L463.00,216.06 L463.50,215.98 L464.00,215.90 L464.50,215.83 L465.00,215.75 L465.50,215.68 L466.00,215.60 L466.50,215.53 L467.00,215.45 L467.50,215.38 L468.00,215.31 L468.50,215.23 L469.00,215.16 L469.50,215.09 L470.00,215.02 L470.50,214.95 L471.00,214.88 L471.50,214.81 L472.00,214.74 L472.50,214.67 L473.00,214.60 L473.50,214.53 L474.00,214.47 L474.50,214.40 L475.00,214.33 L475.50,214.27 L476.00,214.21 L476.50,214.14 L477.00,214.08 L477.50,214.02 L478.00,213.96 L478.50,213.90 L479.00,213.84 L479.50,213.78 L480.00,213.72 L480.50,213.67 L481.00,213.61 L481.50,213.56 L482.00,213.51 L482.50,213.45 L483.00,213.40 L483.50,213.35 L484.00,213.31 L484.50,213.26 L485.00,213.21 L485.50,213.17 L486.00,213.12 L486.50,213.08 L487.00,213.04 L487.50,213.00 L488.00,212.96 L488.50,212.92 L489.00,212.89 L489.50,212.85 L490.00,212.82 L490.50,212.79 L491.00,212.76 L491.50,212.73 L492.00,212.70 L492.50,212.68 L493.00,212.66 L493.50,212.63 L494.00,212.61 L494.50,212.59 L495.00,212.58 L495.50,212.56 L496.00,212.55 L496.50,212.53 L497.00,212.52 L497.50,212.52 L498.00,212.51 L498.50,212.50 L499.00,212.50 L499.50,212.50 L500.00,212.50 L500.50,212.50 L501.00,212.50 L501.50,212.51 L502.00,212.51 L502.50,212.52 L503.00,212.53 L503.50,212.54 L504.00,212.56 L504.50,212.57 L505.00,212.59 L505.50,212.60 L506.00,212.62 L506.50,212.64 L507.00,212.66 L507.50,212.69 L508.00,212.71 L508.50,212.74 L509.00,212.76 L509.50,212.79 L510.00,212.82 L510.50,212.85 L511.00,212.88 L511.50,212.92 L512.00,212.95 L512.50,212.99 L513.00,213.03 L513.50,213.06 L514.00,213.10 L514.50,213.14 L515.00,213.18 L515.50,213.23 L516.00,213.27 L516.50,213.31 L517.00,213.36 L517.50,213.41 L518.00,213.45 L518.50,213.50 L519.00,213.55 L519.50,213.60 L520.00,213.65 L520.50,213.71 L521.00,213.76 L521.50,213.81 L522.00,213.87 L522.50,213.92 L523.00,213.98 L523.50,214.04 L524.00,214.09 L524.50,214.15 L525.00,214.21 L525.50,214.27 L526.00,214.33 L526.50,214.39 L527.00,214.46 L527.50,214.52 L528.00,214.58 L528.50,214.64 L529.00,214.71 L529.50,214.77 L530.00,214.84 L530.50,214.90 L531.00,214.97 L531.50,215.04 L532.00,215.10 L532.50,215.17 L533.00,215.24 L533.50,215.31 L534.00,215.38 L534.50,215.44 L535.00,215.51 L535.50,215.58 L536.00,215.65 L536.50,215.72 L537.00,215.79 L537.50,215.86 L538.00,215.93 L538.50,216.00 L539.00,216.07 L539.50,216.15 L540.00,216.22 L540.50,216.29 L541.00,216.36 L541.50,216.43 L542.00,216.50 L542.50,216.57 L543.00,216.64 L543.50,216.72 L544.00,216.79 L544.50,216.86 L545.00,216.93 L545.50,217.00" stroke="#1a1aff" stroke-width="1.3"/>
<path d="M318.50,217.00 L318.70,216.90 L318.90,216.80 L319.10,216.70 L319.30,216.60 L319.50,216.50 L319.70,216.40 L319.90,216.29 L320.10,216.19 L320.30,216.09 L320.50,215.99 L320.70,215.88 L320.90,215.78 L321.10,215.68 L321.30,215.58 L321.50,215.47 L321.70,215.37 L321.90,215.26 L322.10,215.16 L322.30,215.05 L322.50,214.95 L322.70,214.84 L322.85,214.76 M327.30,212.31 L327.50,212.20 L327.70,212.09 L327.90,211.97 L328.10,211.86 L328.30,211.74 L328.50,211.62 L328.70,211.51 L328.90,211.39 L329.10,211.28 L329.30,211.16 L329.50,211.05 L329.70,210.93 L329.90,210.81 L330.10,210.70 L330.30,210.58 L330.50,210.46 L330.70,210.35 L330.90,210.23 L331.10,210.11 L331.30,209.99 L331.50,209.88 M335.80,207.28 L336.00,207.16 L336.20,207.03 L336.40,206.91 L336.60,206.78 L336.80,206.66 L337.00,206.53 L337.20,206.41 L337.40,206.28 L337.60,206.15 L337.80,206.03 L338.00,205.90 L338.20,205.77 L338.40,205.65 L338.60,205.52 L338.80,205.39 L339.00,205.26 L339.20,205.13 L339.40,205.01 L339.60,204.88 L339.80,204.75 L339.95,204.66 M344.20,201.92 L344.40,201.79 L344.60,201.67 L344.80,201.54 L345.00,201.41 L345.20,201.28 L345.40,201.15 L345.60,201.02 L345.80,200.89 L346.00,200.76 L346.20,200.63 L346.40,200.50 L346.60,200.37 L346.80,200.24 L347.00,200.11 L347.20,199.98 L347.40,199.85 L347.60,199.72 L347.80,199.59 L348.00,199.46 L348.20,199.33 L348.30,199.27 M352.50,196.52 L352.70,196.39 L352.90,196.25 L353.10,196.12 L353.30,195.99 L353.50,195.86 L353.70,195.73 L353.90,195.60 L354.10,195.46 L354.30,195.33 L354.50,195.20 L354.70,195.07 L354.90,194.94 L355.10,194.81 L355.30,194.67 L355.50,194.54 L355.70,194.41 L355.90,194.28 L356.10,194.15 L356.30,194.01 L356.50,193.88 L356.60,193.82 M360.80,191.02 L361.00,190.88 L361.20,190.74 L361.40,190.60 L361.60,190.46 L361.80,190.32 L362.00,190.18 L362.20,190.04 L362.40,189.90 L362.60,189.76 L362.80,189.62 L363.00,189.48 L363.20,189.34 L363.40,189.19 L363.60,189.05 L363.80,188.91 L364.00,188.77 L364.20,188.62 L364.40,188.48 L364.60,188.34 L364.80,188.20 M368.90,185.34 L369.10,185.20 L369.30,185.07 L369.50,184.93 L369.70,184.80 L369.90,184.67 L370.10,184.55 L370.30,184.42 L370.50,184.30 L370.70,184.18 L370.90,184.06 L371.10,183.95 L371.30,183.83 L371.50,183.72 L371.70,183.61 L371.90,183.50 L372.10,183.40 L372.30,183.29 L372.50,183.19 L372.70,183.09 L372.90,182.98 L373.10,182.89 L373.15,182.86 M377.75,180.82 L377.95,180.74 L378.15,180.66 L378.35,180.58 L378.55,180.50 L378.75,180.43 L378.95,180.35 L379.15,180.29 L379.35,180.22 L379.55,180.15 L379.75,180.09 L379.95,180.03 L380.15,179.97 L380.35,179.91 L380.55,179.86 L380.75,179.80 L380.95,179.75 L381.15,179.70 L381.35,179.65 L381.55,179.60 L381.75,179.56 L381.95,179.51 L382.15,179.47 L382.35,179.43 L382.40,179.42 M387.40,179.22 L387.60,179.26 L387.80,179.30 L388.00,179.35 L388.20,179.40 L388.40,179.45 L388.60,179.50 L388.80,179.56 L389.00,179.61 L389.20,179.67 L389.40,179.73 L389.60,179.80 L389.80,179.88 L390.00,179.97 L390.20,180.08 L390.40,180.19 L390.60,180.31 L390.80,180.44 L391.00,180.58 L391.20,180.72 L391.40,180.88 L391.60,181.04 L391.75,181.17 M395.05,185.05 L395.25,185.39 L395.45,185.73 L395.65,186.09 L395.85,186.45 L396.05,186.83 L396.25,187.21 L396.45,187.60 L396.65,188.00 L396.85,188.41 L397.05,188.82 L397.25,189.24 L397.30,189.35 M399.30,194.15 L399.50,194.73 L399.70,195.34 L399.90,195.98 L400.10,196.64 L400.30,197.33 L400.50,198.05 L400.65,198.62 M401.85,203.77 L402.05,204.73 L402.25,205.71 L402.45,206.73 L402.65,207.77 L402.80,208.56 M403.75,213.73 L403.95,214.84 L404.15,215.95 L404.35,217.08 L404.55,218.21 M405.45,223.45 L405.65,224.63 L405.85,225.80 L406.05,226.97 L406.25,228.13 M407.20,233.50 L407.40,234.60 L407.60,235.68 L407.80,236.76 L408.00,237.82 L408.05,238.09 M409.10,243.30 L409.30,244.20 L409.50,245.07 L409.70,245.91 L409.90,246.74 L410.10,247.54 L410.20,247.94 M411.55,252.95 L411.75,253.61 L411.95,254.24 L412.15,254.84 L412.35,255.42 L412.55,255.98 L412.75,256.51 L412.95,257.02 L413.15,257.50 M415.15,260.56 L415.35,260.68 L415.55,260.78 L415.75,260.85 L415.95,260.90 L416.15,260.93 L416.35,260.91 L416.55,260.86 L416.75,260.75 L416.95,260.59 L417.15,260.37 L417.35,260.08 L417.55,259.72 L417.75,259.28 L417.90,258.93 M419.70,253.98 L419.90,253.34 L420.10,252.69 L420.30,252.02 L420.50,251.33 L420.70,250.63 L420.90,249.90 L421.05,249.35 M422.40,244.32 L422.60,243.57 L422.80,242.82 L423.00,242.08 L423.20,241.33 L423.40,240.59 L423.60,239.86 L423.70,239.49 M425.05,234.58 L425.25,233.85 L425.45,233.12 L425.65,232.39 L425.85,231.67 L426.05,230.95 L426.25,230.23 L426.35,229.87 M427.80,224.85 L428.00,224.17 L428.20,223.49 L428.40,222.82 L428.60,222.14 L428.80,221.46 L429.00,220.79 L429.20,220.11 M430.70,215.04 L430.90,214.35 L431.10,213.66 L431.30,212.98 L431.50,212.29 L431.70,211.61 L431.90,210.93 L432.05,210.43 M433.75,205.45 L433.95,204.98 L434.15,204.53 L434.35,204.08 L434.55,203.62 L434.75,203.16 L434.95,202.68 L435.15,202.19 L435.35,201.71 L435.55,201.22 L435.65,200.98 M437.65,196.15 L437.85,195.68 L438.05,195.21 L438.25,194.75 L438.45,194.28 L438.65,193.83 L438.85,193.38 L439.05,192.93 L439.25,192.49 L439.45,192.05 L439.65,191.61 M441.90,186.88 L442.10,186.46 L442.30,186.05 L442.50,185.63 L442.70,185.21 L442.90,184.79 L443.10,184.37 L443.30,183.95 L443.50,183.54 L443.70,183.12 L443.90,182.71 L444.05,182.40 M446.40,177.73 L446.60,177.35 L446.80,176.97 L447.00,176.60 L447.20,176.24 L447.40,175.89 L447.60,175.55 L447.80,175.23 L448.00,174.92 L448.20,174.63 L448.40,174.35 L448.60,174.08 L448.80,173.82 L449.00,173.57 L449.05,173.51 M452.85,169.96 L453.05,169.82 L453.25,169.69 L453.45,169.56 L453.65,169.43 L453.85,169.31 L454.05,169.20 L454.25,169.09 L454.45,168.99 L454.65,168.89 L454.85,168.79 L455.05,168.70 L455.25,168.62 L455.45,168.54 L455.65,168.47 L455.85,168.41 L456.05,168.36 L456.25,168.31 L456.45,168.27 L456.65,168.24 L456.85,168.22 L457.05,168.20 L457.25,168.18 L457.45,168.18 L457.50,168.17 M462.30,170.03 L462.50,170.21 L462.70,170.39 L462.90,170.59 L463.10,170.81 L463.30,171.04 L463.50,171.29 L463.70,171.56 L463.90,171.84 L464.10,172.15 L464.30,172.47 L464.50,172.81 L464.70,173.17 L464.90,173.55 L465.10,173.95 L465.15,174.05 M467.15,178.91 L467.35,179.45 L467.55,180.00 L467.75,180.55 L467.95,181.11 L468.15,181.68 L468.35,182.26 L468.55,182.85 L468.75,183.45 L468.80,183.60 M470.40,188.49 L470.60,189.11 L470.80,189.75 L471.00,190.39 L471.20,191.04 L471.40,191.70 L471.60,192.37 L471.80,193.05 M473.20,197.98 L473.40,198.70 L473.60,199.42 L473.80,200.14 L474.00,200.87 L474.20,201.60 L474.40,202.33 L474.45,202.51 M475.80,207.54 L476.00,208.30 L476.20,209.06 L476.40,209.81 L476.60,210.57 L476.80,211.32 L477.00,212.07 L477.05,212.26 M478.40,217.21 L478.60,217.92 L478.80,218.63 L479.00,219.33 L479.20,220.02 L479.40,220.70 L479.60,221.37 L479.70,221.70 M481.25,226.65 L481.45,227.28 L481.65,227.92 L481.85,228.56 L482.05,229.21 L482.25,229.86 L482.45,230.52 L482.65,231.18 M484.15,236.18 L484.35,236.85 L484.55,237.51 L484.75,238.17 L484.95,238.83 L485.15,239.49 L485.35,240.14 L485.55,240.78 M487.20,245.54 L487.40,246.05 L487.60,246.56 L487.80,247.05 L488.00,247.53 L488.20,248.00 L488.40,248.47 L488.60,248.92 L488.80,249.36 L489.00,249.80 L489.10,250.01 M491.55,254.43 L491.75,254.71 L491.95,254.99 L492.15,255.25 L492.35,255.50 L492.55,255.74 L492.75,255.97 L492.95,256.19 L493.15,256.40 L493.35,256.59 L493.55,256.77 L493.75,256.94 L493.95,257.11 L494.15,257.27 L494.35,257.42 L494.55,257.58 L494.75,257.73 L494.95,257.87 L495.00,257.91 M499.60,260.06 L499.80,260.11 L500.00,260.16 L500.20,260.21 L500.40,260.25 L500.60,260.28 L500.80,260.32 L501.00,260.34 L501.20,260.37 L501.40,260.38 L501.60,260.39 L501.80,260.40 L502.00,260.40 L502.20,260.39 L502.40,260.38 L502.60,260.37 L502.80,260.35 L503.00,260.33 L503.20,260.31 L503.40,260.28 L503.60,260.24 L503.80,260.21 L504.00,260.16 L504.20,260.12 L504.40,260.07 L504.50,260.04 M509.10,257.87 L509.30,257.74 L509.50,257.61 L509.70,257.48 L509.90,257.34 L510.10,257.20 L510.30,257.06 L510.50,256.91 L510.70,256.76 L510.90,256.60 L511.10,256.44 L511.30,256.28 L511.50,256.11 L511.70,255.94 L511.90,255.76 L512.10,255.58 L512.30,255.39 L512.50,255.20 L512.70,255.00 L512.90,254.80 M516.50,251.08 L516.70,250.87 L516.90,250.65 L517.10,250.44 L517.30,250.22 L517.50,250.00 L517.70,249.78 L517.90,249.56 L518.10,249.34 L518.30,249.11 L518.50,248.89 L518.70,248.66 L518.90,248.44 L519.10,248.21 L519.30,247.98 L519.50,247.75 L519.70,247.52 L519.80,247.40 M523.15,243.48 L523.35,243.25 L523.55,243.02 L523.75,242.78 L523.95,242.55 L524.15,242.31 L524.35,242.08 L524.55,241.85 L524.75,241.61 L524.95,241.38 L525.15,241.15 L525.35,240.91 L525.55,240.68 L525.75,240.44 L525.95,240.21 L526.15,239.98 L526.35,239.74 L526.40,239.68 M529.75,235.77 L529.95,235.53 L530.15,235.30 L530.35,235.07 L530.55,234.83 L530.75,234.60 L530.95,234.37 L531.15,234.13 L531.35,233.90 L531.55,233.66 L531.75,233.43 L531.95,233.20 L532.15,232.96 L532.35,232.73 L532.55,232.50 L532.75,232.26 L532.95,232.03 L533.00,231.97 M536.30,228.06 L536.50,227.82 L536.70,227.57 L536.90,227.33 L537.10,227.09 L537.30,226.85 L537.50,226.60 L537.70,226.36 L537.90,226.12 L538.10,225.87 L538.30,225.63 L538.50,225.39 L538.70,225.15 L538.90,224.90 L539.10,224.66 L539.30,224.42 L539.50,224.18 M542.80,220.23 L543.00,219.99 L543.20,219.75 L543.40,219.51 L543.60,219.27 L543.80,219.03 L544.00,218.79 L544.20,218.55 L544.40,218.31 L544.60,218.07 L544.80,217.84 L545.00,217.60 L545.20,217.36 L545.40,217.12 L545.45,217.06" stroke="#000" stroke-width="1.9"/>
</g>
<text transform="translate(318.50,281.40) scale(0.97,1)" text-anchor="middle">0</text>
<text transform="translate(381.56,281.40) scale(0.97,1)" text-anchor="middle">50</text>
<text transform="translate(444.61,281.40) scale(0.97,1)" text-anchor="middle">100</text>
<text transform="translate(507.67,281.40) scale(0.97,1)" text-anchor="middle">150</text>
<text transform="translate(316.00,272.50) scale(0.97,1)" text-anchor="end">−1</text>
<text transform="translate(316.00,247.25) scale(0.97,1)" text-anchor="end">−0.5</text>
<text transform="translate(316.00,222.00) scale(0.97,1)" text-anchor="end">0</text>
<text transform="translate(316.00,196.75) scale(0.97,1)" text-anchor="end">0.5</text>
<text transform="translate(316.00,171.50) scale(0.97,1)" text-anchor="end">1</text>
</g>
<text transform="translate(159.40,9.20) scale(0.97,1)" text-anchor="middle">Unpolarized DCS</text>
<text transform="translate(402.60,9.20) scale(0.97,1)" text-anchor="start" class="it">T</text>
<text transform="translate(411.90,9.20) scale(0.97,1)" text-anchor="start">parameter</text>
<text transform="translate(130.10,157.60) scale(0.97,1)" text-anchor="start" class="it">S</text>
<text transform="translate(141.00,157.60) scale(0.97,1)" text-anchor="start">parameter</text>
<text transform="translate(402.00,157.60) scale(0.97,1)" text-anchor="start" class="it">U</text>
<text transform="translate(413.60,157.60) scale(0.97,1)" text-anchor="start">parameter</text>
<text transform="translate(159.80,293.50) scale(0.97,1)" text-anchor="middle">θ/deg</text>
<text transform="translate(432.30,293.50) scale(0.97,1)" text-anchor="middle">θ/deg</text>
<g transform="translate(12.3,79.7) rotate(-90)"><text x="-0.3" y="0.3" style="font-size:12px">[</text><text x="6.5" y="0" class="it">a</text><text x="13.1" y="6.1" style="font-size:9.3px">0</text><text x="13.3" y="-6.4" style="font-size:9.3px">2</text><text x="19.1" y="0.3" style="font-size:12px">]</text></g>
</svg></body></html>
